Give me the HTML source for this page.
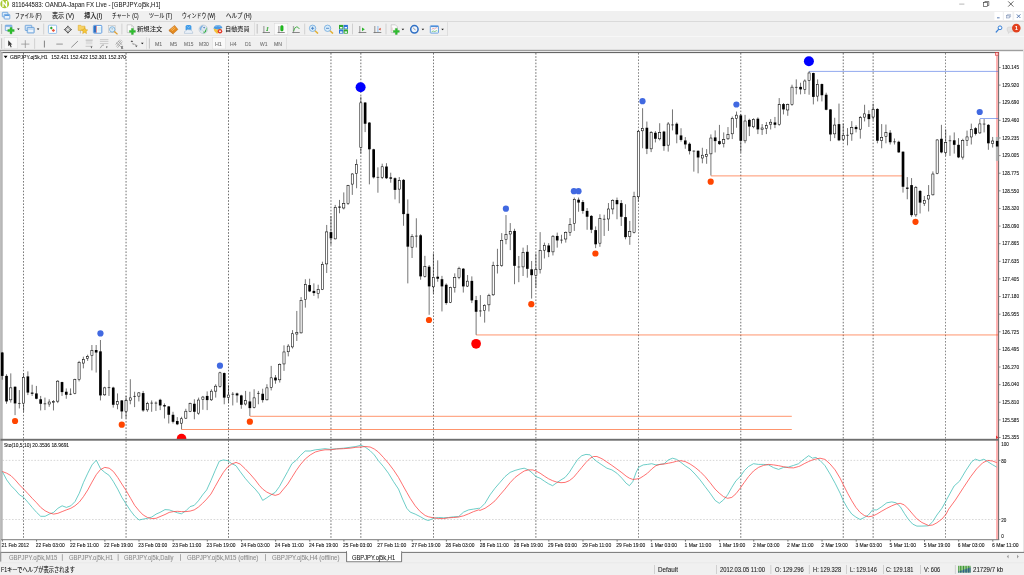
<!DOCTYPE html>
<html lang="ja"><head><meta charset="utf-8"><title>811644583: OANDA-Japan FX Live - [GBPJPY.oj5k,H1]</title>
<style>
html,body{margin:0;padding:0;width:1024px;height:575px;overflow:hidden;background:#f0f0f0;font-family:"Liberation Sans","Noto Sans CJK JP",sans-serif}
.abs{position:absolute}
.t{position:absolute;white-space:pre;line-height:1;transform-origin:0 50%;-webkit-text-stroke:0.08px}
svg text{white-space:pre}
#titlebar{position:absolute;left:0;top:0;width:1024px;height:10.7px;background:#fff}
#menubar{position:absolute;left:0;top:10.7px;width:1024px;height:10.6px;background:#f0f0f0}
#toolbars{position:absolute;left:0;top:21.3px;width:1024px;height:29px;background:#f0f0f0}
#tabs{position:absolute;left:0;top:552.6px;width:1024px;height:10px;background:#f0f0f0}
#status{position:absolute;left:0;top:562.6px;width:1024px;height:12.4px;background:#f0f0f0}
</style></head><body>
<div id="titlebar"></div><div id="menubar"></div><div id="toolbars"></div>
<div id="chart"><svg class="abs" style="left:0;top:0" width="1024" height="575" viewBox="0 0 1024 575" font-family="'Liberation Sans',sans-serif"><rect x="0.00" y="50.00" width="1024.00" height="502.00" fill="#ffffff" />
<rect x="0.00" y="49.30" width="1024.00" height="0.70" fill="#e2e2e2" />
<rect x="0.00" y="49.90" width="1023.20" height="1.30" fill="#9e9e9e" />
<rect x="0.00" y="51.20" width="999.00" height="0.90" fill="#e6e6e6" />
<rect x="0.00" y="52.00" width="998.90" height="1.10" fill="#666" />
<rect x="1023.20" y="50.00" width="0.80" height="502.00" fill="#e0e0e0" />
<rect x="0.00" y="51.00" width="1.20" height="511.00" fill="#bdbdbd" />
<rect x="1.20" y="52.00" width="1.40" height="488.00" fill="#a8a8a8" />
<line x1="23.59" y1="53.00" x2="23.59" y2="539.00" stroke="#000" stroke-width="0.6" stroke-dasharray="1.6 1.6" opacity="0.95"/>
<line x1="126.05" y1="53.00" x2="126.05" y2="539.00" stroke="#000" stroke-width="0.6" stroke-dasharray="1.6 1.6" opacity="0.95"/>
<line x1="228.51" y1="53.00" x2="228.51" y2="539.00" stroke="#000" stroke-width="0.6" stroke-dasharray="1.6 1.6" opacity="0.95"/>
<line x1="330.96" y1="53.00" x2="330.96" y2="539.00" stroke="#000" stroke-width="0.6" stroke-dasharray="1.6 1.6" opacity="0.95"/>
<line x1="360.85" y1="53.00" x2="360.85" y2="539.00" stroke="#000" stroke-width="0.6" stroke-dasharray="1.6 1.6" opacity="0.95"/>
<line x1="433.42" y1="53.00" x2="433.42" y2="539.00" stroke="#000" stroke-width="0.6" stroke-dasharray="1.6 1.6" opacity="0.95"/>
<line x1="535.88" y1="53.00" x2="535.88" y2="539.00" stroke="#000" stroke-width="0.6" stroke-dasharray="1.6 1.6" opacity="0.95"/>
<line x1="638.33" y1="53.00" x2="638.33" y2="539.00" stroke="#000" stroke-width="0.6" stroke-dasharray="1.6 1.6" opacity="0.95"/>
<line x1="740.79" y1="53.00" x2="740.79" y2="539.00" stroke="#000" stroke-width="0.6" stroke-dasharray="1.6 1.6" opacity="0.95"/>
<line x1="843.24" y1="53.00" x2="843.24" y2="539.00" stroke="#000" stroke-width="0.6" stroke-dasharray="1.6 1.6" opacity="0.95"/>
<line x1="873.13" y1="53.00" x2="873.13" y2="539.00" stroke="#000" stroke-width="0.6" stroke-dasharray="1.6 1.6" opacity="0.95"/>
<line x1="945.70" y1="53.00" x2="945.70" y2="539.00" stroke="#000" stroke-width="0.6" stroke-dasharray="1.6 1.6" opacity="0.95"/>
<line x1="2.40" y1="460.40" x2="996.00" y2="460.40" stroke="#b8b8b8" stroke-width="0.55" stroke-dasharray="1.6 1.6"/>
<line x1="2.40" y1="519.50" x2="996.00" y2="519.50" stroke="#b8b8b8" stroke-width="0.55" stroke-dasharray="1.6 1.6"/>
<rect x="996.00" y="53.00" width="2.20" height="487.00" fill="#ffb3b3" />
<line x1="476.11" y1="334.95" x2="998.20" y2="334.95" stroke="#ff4500" stroke-width="0.58" />
<line x1="249.85" y1="416.30" x2="791.80" y2="416.30" stroke="#ff4500" stroke-width="0.58" />
<line x1="181.55" y1="429.50" x2="791.80" y2="429.50" stroke="#ff4500" stroke-width="0.58" />
<line x1="710.90" y1="175.90" x2="903.01" y2="175.90" stroke="#ff4500" stroke-width="0.58" />
<line x1="809.09" y1="71.40" x2="998.20" y2="71.40" stroke="#4169e1" stroke-width="0.58" />
<line x1="979.85" y1="118.50" x2="998.20" y2="118.50" stroke="#4169e1" stroke-width="0.58" />
<line x1="2.25" y1="352.02" x2="2.25" y2="379.73" stroke="#000" stroke-width="0.55" />
<rect x="0.92" y="352.52" width="2.67" height="23.37" fill="#000" />
<line x1="6.52" y1="374.22" x2="6.52" y2="403.77" stroke="#000" stroke-width="0.55" />
<rect x="5.19" y="375.89" width="2.67" height="25.54" fill="#000" />
<line x1="10.79" y1="373.39" x2="10.79" y2="402.60" stroke="#000" stroke-width="0.55" />
<rect x="9.72" y="387.85" width="2.14" height="11.98" fill="#fff" stroke="#000" stroke-width="0.55"/>
<line x1="15.06" y1="386.41" x2="15.06" y2="415.13" stroke="#000" stroke-width="0.55" />
<rect x="13.73" y="386.74" width="2.67" height="16.69" fill="#000" />
<line x1="19.33" y1="390.08" x2="19.33" y2="408.45" stroke="#000" stroke-width="0.55" />
<line x1="17.98" y1="403.44" x2="20.68" y2="403.44" stroke="#000" stroke-width="0.6" />
<line x1="23.59" y1="373.39" x2="23.59" y2="411.79" stroke="#000" stroke-width="0.55" />
<rect x="22.52" y="377.33" width="2.14" height="25.84" fill="#fff" stroke="#000" stroke-width="0.55"/>
<line x1="27.86" y1="371.39" x2="27.86" y2="395.09" stroke="#000" stroke-width="0.55" />
<rect x="26.53" y="376.39" width="2.67" height="16.19" fill="#000" />
<line x1="32.13" y1="384.74" x2="32.13" y2="395.93" stroke="#000" stroke-width="0.55" />
<rect x="30.80" y="392.59" width="2.67" height="1.17" fill="#000" />
<line x1="36.40" y1="385.91" x2="36.40" y2="399.27" stroke="#000" stroke-width="0.55" />
<rect x="35.07" y="393.42" width="2.67" height="5.34" fill="#000" />
<line x1="40.67" y1="395.93" x2="40.67" y2="410.45" stroke="#000" stroke-width="0.55" />
<rect x="39.34" y="399.27" width="2.67" height="4.51" fill="#000" />
<line x1="44.94" y1="397.60" x2="44.94" y2="410.12" stroke="#000" stroke-width="0.55" />
<line x1="43.59" y1="403.77" x2="46.29" y2="403.77" stroke="#000" stroke-width="0.6" />
<line x1="49.21" y1="399.27" x2="49.21" y2="406.78" stroke="#000" stroke-width="0.55" />
<rect x="48.14" y="402.04" width="2.14" height="1.96" fill="#fff" stroke="#000" stroke-width="0.55"/>
<line x1="53.48" y1="400.10" x2="53.48" y2="410.45" stroke="#000" stroke-width="0.55" />
<rect x="52.41" y="401.71" width="2.14" height="0.80" fill="#fff" stroke="#000" stroke-width="0.55"/>
<line x1="57.75" y1="380.07" x2="57.75" y2="403.11" stroke="#000" stroke-width="0.55" />
<rect x="56.68" y="381.17" width="2.14" height="19.99" fill="#fff" stroke="#000" stroke-width="0.55"/>
<line x1="62.02" y1="381.74" x2="62.02" y2="395.93" stroke="#000" stroke-width="0.55" />
<rect x="60.69" y="382.07" width="2.67" height="10.02" fill="#000" />
<line x1="66.28" y1="388.41" x2="66.28" y2="398.76" stroke="#000" stroke-width="0.55" />
<rect x="64.95" y="391.75" width="2.67" height="3.01" fill="#000" />
<line x1="70.55" y1="388.41" x2="70.55" y2="395.09" stroke="#000" stroke-width="0.55" />
<line x1="69.20" y1="394.26" x2="71.90" y2="394.26" stroke="#000" stroke-width="0.6" />
<line x1="74.82" y1="378.73" x2="74.82" y2="394.26" stroke="#000" stroke-width="0.55" />
<rect x="73.75" y="379.50" width="2.14" height="13.98" fill="#fff" stroke="#000" stroke-width="0.55"/>
<line x1="79.09" y1="360.87" x2="79.09" y2="381.40" stroke="#000" stroke-width="0.55" />
<rect x="78.02" y="362.31" width="2.14" height="17.16" fill="#fff" stroke="#000" stroke-width="0.55"/>
<line x1="83.36" y1="356.69" x2="83.36" y2="368.38" stroke="#000" stroke-width="0.55" />
<rect x="82.29" y="359.47" width="2.14" height="3.63" fill="#fff" stroke="#000" stroke-width="0.55"/>
<line x1="87.63" y1="354.69" x2="87.63" y2="360.87" stroke="#000" stroke-width="0.55" />
<rect x="86.56" y="356.63" width="2.14" height="1.80" fill="#fff" stroke="#000" stroke-width="0.55"/>
<line x1="91.90" y1="345.01" x2="91.90" y2="370.38" stroke="#000" stroke-width="0.55" />
<rect x="90.83" y="350.62" width="2.14" height="4.97" fill="#fff" stroke="#000" stroke-width="0.55"/>
<line x1="96.17" y1="345.01" x2="96.17" y2="372.55" stroke="#000" stroke-width="0.55" />
<rect x="94.84" y="350.02" width="2.67" height="2.50" fill="#000" />
<line x1="100.44" y1="340.00" x2="100.44" y2="400.43" stroke="#000" stroke-width="0.55" />
<rect x="99.11" y="351.35" width="2.67" height="44.07" fill="#000" />
<line x1="104.71" y1="386.74" x2="104.71" y2="395.93" stroke="#000" stroke-width="0.55" />
<rect x="103.64" y="387.85" width="2.14" height="6.97" fill="#fff" stroke="#000" stroke-width="0.55"/>
<line x1="108.98" y1="370.05" x2="108.98" y2="395.93" stroke="#000" stroke-width="0.55" />
<line x1="107.63" y1="387.58" x2="110.33" y2="387.58" stroke="#000" stroke-width="0.6" />
<line x1="113.24" y1="386.74" x2="113.24" y2="407.61" stroke="#000" stroke-width="0.55" />
<rect x="111.91" y="387.58" width="2.67" height="17.20" fill="#000" />
<line x1="117.51" y1="393.42" x2="117.51" y2="409.28" stroke="#000" stroke-width="0.55" />
<rect x="116.44" y="401.71" width="2.14" height="2.80" fill="#fff" stroke="#000" stroke-width="0.55"/>
<line x1="121.78" y1="400.10" x2="121.78" y2="418.80" stroke="#000" stroke-width="0.55" />
<rect x="120.45" y="400.43" width="2.67" height="11.02" fill="#000" />
<line x1="126.05" y1="395.93" x2="126.05" y2="418.46" stroke="#000" stroke-width="0.55" />
<rect x="124.98" y="400.70" width="2.14" height="10.81" fill="#fff" stroke="#000" stroke-width="0.55"/>
<line x1="130.32" y1="379.23" x2="130.32" y2="404.27" stroke="#000" stroke-width="0.55" />
<rect x="129.25" y="397.87" width="2.14" height="2.30" fill="#fff" stroke="#000" stroke-width="0.55"/>
<line x1="134.59" y1="391.75" x2="134.59" y2="407.11" stroke="#000" stroke-width="0.55" />
<line x1="133.24" y1="396.43" x2="135.94" y2="396.43" stroke="#000" stroke-width="0.6" />
<line x1="138.86" y1="392.09" x2="138.86" y2="401.44" stroke="#000" stroke-width="0.55" />
<rect x="137.79" y="392.86" width="2.14" height="3.30" fill="#fff" stroke="#000" stroke-width="0.55"/>
<line x1="143.13" y1="390.92" x2="143.13" y2="411.79" stroke="#000" stroke-width="0.55" />
<rect x="141.80" y="393.09" width="2.67" height="17.36" fill="#000" />
<line x1="147.40" y1="401.77" x2="147.40" y2="411.79" stroke="#000" stroke-width="0.55" />
<rect x="146.33" y="403.71" width="2.14" height="6.14" fill="#fff" stroke="#000" stroke-width="0.55"/>
<line x1="151.66" y1="400.43" x2="151.66" y2="411.79" stroke="#000" stroke-width="0.55" />
<line x1="150.31" y1="403.11" x2="153.01" y2="403.11" stroke="#000" stroke-width="0.6" />
<line x1="155.93" y1="401.44" x2="155.93" y2="410.95" stroke="#000" stroke-width="0.55" />
<line x1="154.58" y1="403.11" x2="157.28" y2="403.11" stroke="#000" stroke-width="0.6" />
<line x1="160.20" y1="398.76" x2="160.20" y2="410.12" stroke="#000" stroke-width="0.55" />
<rect x="158.87" y="399.77" width="2.67" height="5.68" fill="#000" />
<line x1="164.47" y1="403.44" x2="164.47" y2="418.46" stroke="#000" stroke-width="0.55" />
<rect x="163.14" y="405.11" width="2.67" height="1.34" fill="#000" />
<line x1="168.74" y1="405.94" x2="168.74" y2="423.47" stroke="#000" stroke-width="0.55" />
<rect x="167.41" y="406.44" width="2.67" height="8.35" fill="#000" />
<line x1="173.01" y1="411.79" x2="173.01" y2="423.47" stroke="#000" stroke-width="0.55" />
<rect x="171.68" y="414.79" width="2.67" height="7.01" fill="#000" />
<line x1="177.28" y1="417.13" x2="177.28" y2="425.14" stroke="#000" stroke-width="0.55" />
<rect x="175.95" y="420.97" width="2.67" height="3.34" fill="#000" />
<line x1="181.55" y1="416.79" x2="181.55" y2="429.32" stroke="#000" stroke-width="0.55" />
<rect x="180.48" y="418.73" width="2.14" height="4.47" fill="#fff" stroke="#000" stroke-width="0.55"/>
<line x1="185.82" y1="408.78" x2="185.82" y2="418.80" stroke="#000" stroke-width="0.55" />
<rect x="184.75" y="411.22" width="2.14" height="6.97" fill="#fff" stroke="#000" stroke-width="0.55"/>
<line x1="190.09" y1="402.60" x2="190.09" y2="412.12" stroke="#000" stroke-width="0.55" />
<rect x="189.02" y="403.38" width="2.14" height="8.14" fill="#fff" stroke="#000" stroke-width="0.55"/>
<line x1="194.36" y1="399.27" x2="194.36" y2="419.30" stroke="#000" stroke-width="0.55" />
<rect x="193.03" y="403.77" width="2.67" height="8.01" fill="#000" />
<line x1="198.62" y1="397.60" x2="198.62" y2="414.79" stroke="#000" stroke-width="0.55" />
<rect x="197.55" y="400.04" width="2.14" height="13.15" fill="#fff" stroke="#000" stroke-width="0.55"/>
<line x1="202.89" y1="395.93" x2="202.89" y2="409.78" stroke="#000" stroke-width="0.55" />
<rect x="201.82" y="397.03" width="2.14" height="2.47" fill="#fff" stroke="#000" stroke-width="0.55"/>
<line x1="207.16" y1="391.42" x2="207.16" y2="410.12" stroke="#000" stroke-width="0.55" />
<rect x="205.83" y="395.93" width="2.67" height="4.17" fill="#000" />
<line x1="211.43" y1="389.25" x2="211.43" y2="400.93" stroke="#000" stroke-width="0.55" />
<rect x="210.36" y="391.19" width="2.14" height="8.64" fill="#fff" stroke="#000" stroke-width="0.55"/>
<line x1="215.70" y1="384.24" x2="215.70" y2="397.60" stroke="#000" stroke-width="0.55" />
<rect x="214.63" y="386.18" width="2.14" height="4.97" fill="#fff" stroke="#000" stroke-width="0.55"/>
<line x1="219.97" y1="371.72" x2="219.97" y2="387.58" stroke="#000" stroke-width="0.55" />
<rect x="218.90" y="372.82" width="2.14" height="13.65" fill="#fff" stroke="#000" stroke-width="0.55"/>
<line x1="224.24" y1="372.55" x2="224.24" y2="404.27" stroke="#000" stroke-width="0.55" />
<rect x="222.91" y="373.06" width="2.67" height="24.54" fill="#000" />
<line x1="228.51" y1="385.08" x2="228.51" y2="402.60" stroke="#000" stroke-width="0.55" />
<rect x="227.44" y="395.03" width="2.14" height="2.30" fill="#fff" stroke="#000" stroke-width="0.55"/>
<line x1="232.78" y1="392.09" x2="232.78" y2="405.44" stroke="#000" stroke-width="0.55" />
<line x1="231.43" y1="394.26" x2="234.13" y2="394.26" stroke="#000" stroke-width="0.6" />
<line x1="237.05" y1="392.59" x2="237.05" y2="402.60" stroke="#000" stroke-width="0.55" />
<rect x="235.72" y="393.42" width="2.67" height="2.00" fill="#000" />
<line x1="241.31" y1="394.76" x2="241.31" y2="408.78" stroke="#000" stroke-width="0.55" />
<rect x="239.98" y="395.43" width="2.67" height="9.35" fill="#000" />
<line x1="245.58" y1="390.92" x2="245.58" y2="405.44" stroke="#000" stroke-width="0.55" />
<rect x="244.51" y="400.70" width="2.14" height="3.30" fill="#fff" stroke="#000" stroke-width="0.55"/>
<line x1="249.85" y1="391.75" x2="249.85" y2="415.96" stroke="#000" stroke-width="0.55" />
<rect x="248.52" y="401.44" width="2.67" height="6.68" fill="#000" />
<line x1="254.12" y1="389.25" x2="254.12" y2="408.45" stroke="#000" stroke-width="0.55" />
<rect x="253.05" y="397.87" width="2.14" height="9.48" fill="#fff" stroke="#000" stroke-width="0.55"/>
<line x1="258.39" y1="390.92" x2="258.39" y2="404.27" stroke="#000" stroke-width="0.55" />
<line x1="257.04" y1="393.42" x2="259.74" y2="393.42" stroke="#000" stroke-width="0.6" />
<line x1="262.66" y1="388.75" x2="262.66" y2="402.60" stroke="#000" stroke-width="0.55" />
<rect x="261.33" y="393.76" width="2.67" height="6.34" fill="#000" />
<line x1="266.93" y1="384.24" x2="266.93" y2="400.43" stroke="#000" stroke-width="0.55" />
<rect x="265.86" y="387.85" width="2.14" height="11.98" fill="#fff" stroke="#000" stroke-width="0.55"/>
<line x1="271.20" y1="365.88" x2="271.20" y2="390.42" stroke="#000" stroke-width="0.55" />
<rect x="270.13" y="377.83" width="2.14" height="9.48" fill="#fff" stroke="#000" stroke-width="0.55"/>
<line x1="275.47" y1="375.06" x2="275.47" y2="383.74" stroke="#000" stroke-width="0.55" />
<rect x="274.14" y="377.56" width="2.67" height="2.84" fill="#000" />
<line x1="279.74" y1="363.37" x2="279.74" y2="382.57" stroke="#000" stroke-width="0.55" />
<rect x="278.67" y="364.48" width="2.14" height="15.32" fill="#fff" stroke="#000" stroke-width="0.55"/>
<line x1="284.00" y1="345.34" x2="284.00" y2="370.88" stroke="#000" stroke-width="0.55" />
<rect x="282.93" y="351.96" width="2.14" height="11.98" fill="#fff" stroke="#000" stroke-width="0.55"/>
<line x1="288.27" y1="344.17" x2="288.27" y2="356.36" stroke="#000" stroke-width="0.55" />
<rect x="287.20" y="346.11" width="2.14" height="5.64" fill="#fff" stroke="#000" stroke-width="0.55"/>
<line x1="292.54" y1="330.13" x2="292.54" y2="348.50" stroke="#000" stroke-width="0.55" />
<rect x="291.47" y="333.74" width="2.14" height="13.15" fill="#fff" stroke="#000" stroke-width="0.55"/>
<line x1="296.81" y1="310.93" x2="296.81" y2="340.98" stroke="#000" stroke-width="0.55" />
<rect x="295.74" y="332.41" width="2.14" height="1.63" fill="#fff" stroke="#000" stroke-width="0.55"/>
<line x1="301.08" y1="297.08" x2="301.08" y2="333.47" stroke="#000" stroke-width="0.55" />
<rect x="300.01" y="300.35" width="2.14" height="32.52" fill="#fff" stroke="#000" stroke-width="0.55"/>
<line x1="305.35" y1="279.22" x2="305.35" y2="307.60" stroke="#000" stroke-width="0.55" />
<rect x="304.28" y="284.49" width="2.14" height="14.99" fill="#fff" stroke="#000" stroke-width="0.55"/>
<line x1="309.62" y1="278.71" x2="309.62" y2="292.07" stroke="#000" stroke-width="0.55" />
<rect x="308.29" y="285.06" width="2.67" height="6.34" fill="#000" />
<line x1="313.89" y1="283.39" x2="313.89" y2="295.91" stroke="#000" stroke-width="0.55" />
<rect x="312.56" y="290.90" width="2.67" height="2.17" fill="#000" />
<line x1="318.16" y1="284.72" x2="318.16" y2="298.41" stroke="#000" stroke-width="0.55" />
<rect x="317.09" y="289.50" width="2.14" height="3.97" fill="#fff" stroke="#000" stroke-width="0.55"/>
<line x1="322.43" y1="261.69" x2="322.43" y2="290.07" stroke="#000" stroke-width="0.55" />
<rect x="321.36" y="264.46" width="2.14" height="25.00" fill="#fff" stroke="#000" stroke-width="0.55"/>
<line x1="326.69" y1="224.95" x2="326.69" y2="273.03" stroke="#000" stroke-width="0.55" />
<rect x="325.62" y="231.90" width="2.14" height="32.01" fill="#fff" stroke="#000" stroke-width="0.55"/>
<line x1="330.96" y1="216.10" x2="330.96" y2="244.98" stroke="#000" stroke-width="0.55" />
<rect x="329.63" y="232.13" width="2.67" height="6.18" fill="#000" />
<line x1="335.23" y1="204.92" x2="335.23" y2="239.48" stroke="#000" stroke-width="0.55" />
<rect x="334.16" y="207.36" width="2.14" height="31.51" fill="#fff" stroke="#000" stroke-width="0.55"/>
<line x1="339.50" y1="199.91" x2="339.50" y2="213.27" stroke="#000" stroke-width="0.55" />
<rect x="338.17" y="206.59" width="2.67" height="1.00" fill="#000" />
<line x1="343.77" y1="192.40" x2="343.77" y2="209.43" stroke="#000" stroke-width="0.55" />
<rect x="342.70" y="203.52" width="2.14" height="4.47" fill="#fff" stroke="#000" stroke-width="0.55"/>
<line x1="348.04" y1="184.88" x2="348.04" y2="204.92" stroke="#000" stroke-width="0.55" />
<rect x="346.97" y="185.66" width="2.14" height="17.82" fill="#fff" stroke="#000" stroke-width="0.55"/>
<line x1="352.31" y1="173.20" x2="352.31" y2="194.90" stroke="#000" stroke-width="0.55" />
<rect x="351.24" y="173.97" width="2.14" height="10.14" fill="#fff" stroke="#000" stroke-width="0.55"/>
<line x1="356.58" y1="159.34" x2="356.58" y2="188.22" stroke="#000" stroke-width="0.55" />
<rect x="355.51" y="164.29" width="2.14" height="9.14" fill="#fff" stroke="#000" stroke-width="0.55"/>
<line x1="360.85" y1="96.71" x2="360.85" y2="153.47" stroke="#000" stroke-width="0.55" />
<rect x="359.78" y="102.82" width="2.14" height="44.54" fill="#fff" stroke="#000" stroke-width="0.55"/>
<line x1="365.12" y1="102.05" x2="365.12" y2="132.10" stroke="#000" stroke-width="0.55" />
<rect x="363.79" y="102.55" width="2.67" height="21.20" fill="#000" />
<line x1="369.38" y1="122.09" x2="369.38" y2="184.36" stroke="#000" stroke-width="0.55" />
<rect x="368.05" y="122.59" width="2.67" height="26.71" fill="#000" />
<line x1="373.65" y1="148.80" x2="373.65" y2="178.51" stroke="#000" stroke-width="0.55" />
<rect x="372.32" y="149.30" width="2.67" height="28.05" fill="#000" />
<line x1="377.92" y1="167.36" x2="377.92" y2="192.73" stroke="#000" stroke-width="0.55" />
<line x1="376.57" y1="177.37" x2="379.27" y2="177.37" stroke="#000" stroke-width="0.6" />
<line x1="382.19" y1="163.68" x2="382.19" y2="179.04" stroke="#000" stroke-width="0.55" />
<rect x="381.12" y="166.79" width="2.14" height="10.65" fill="#fff" stroke="#000" stroke-width="0.55"/>
<line x1="386.46" y1="163.18" x2="386.46" y2="179.04" stroke="#000" stroke-width="0.55" />
<rect x="385.13" y="166.52" width="2.67" height="11.69" fill="#000" />
<line x1="390.73" y1="172.70" x2="390.73" y2="182.71" stroke="#000" stroke-width="0.55" />
<rect x="389.40" y="177.37" width="2.67" height="1.34" fill="#000" />
<line x1="395.00" y1="177.37" x2="395.00" y2="199.41" stroke="#000" stroke-width="0.55" />
<rect x="393.67" y="178.21" width="2.67" height="11.69" fill="#000" />
<line x1="399.27" y1="177.04" x2="399.27" y2="203.25" stroke="#000" stroke-width="0.55" />
<rect x="398.20" y="180.65" width="2.14" height="8.48" fill="#fff" stroke="#000" stroke-width="0.55"/>
<line x1="403.54" y1="179.04" x2="403.54" y2="225.79" stroke="#000" stroke-width="0.55" />
<rect x="402.21" y="179.88" width="2.67" height="34.22" fill="#000" />
<line x1="407.81" y1="199.41" x2="407.81" y2="283.38" stroke="#000" stroke-width="0.55" />
<rect x="406.48" y="213.77" width="2.67" height="32.89" fill="#000" />
<line x1="412.07" y1="234.13" x2="412.07" y2="258.01" stroke="#000" stroke-width="0.55" />
<rect x="411.00" y="236.41" width="2.14" height="10.81" fill="#fff" stroke="#000" stroke-width="0.55"/>
<line x1="416.34" y1="218.27" x2="416.34" y2="247.49" stroke="#000" stroke-width="0.55" />
<line x1="414.99" y1="236.14" x2="417.69" y2="236.14" stroke="#000" stroke-width="0.6" />
<line x1="420.61" y1="234.14" x2="420.61" y2="279.72" stroke="#000" stroke-width="0.55" />
<rect x="419.28" y="235.31" width="2.67" height="41.07" fill="#000" />
<line x1="424.88" y1="255.84" x2="424.88" y2="277.55" stroke="#000" stroke-width="0.55" />
<rect x="423.81" y="266.63" width="2.14" height="9.81" fill="#fff" stroke="#000" stroke-width="0.55"/>
<line x1="429.15" y1="265.03" x2="429.15" y2="314.77" stroke="#000" stroke-width="0.55" />
<rect x="427.82" y="266.69" width="2.67" height="19.70" fill="#000" />
<line x1="433.42" y1="253.34" x2="433.42" y2="293.74" stroke="#000" stroke-width="0.55" />
<rect x="432.35" y="277.32" width="2.14" height="9.48" fill="#fff" stroke="#000" stroke-width="0.55"/>
<line x1="437.69" y1="260.35" x2="437.69" y2="281.72" stroke="#000" stroke-width="0.55" />
<rect x="436.36" y="276.71" width="2.67" height="2.00" fill="#000" />
<line x1="441.96" y1="275.88" x2="441.96" y2="311.44" stroke="#000" stroke-width="0.55" />
<rect x="440.63" y="279.22" width="2.67" height="7.18" fill="#000" />
<line x1="446.23" y1="283.39" x2="446.23" y2="304.76" stroke="#000" stroke-width="0.55" />
<rect x="444.90" y="284.72" width="2.67" height="18.36" fill="#000" />
<line x1="450.50" y1="286.73" x2="450.50" y2="303.09" stroke="#000" stroke-width="0.55" />
<rect x="449.43" y="287.33" width="2.14" height="14.99" fill="#fff" stroke="#000" stroke-width="0.55"/>
<line x1="454.76" y1="273.37" x2="454.76" y2="292.57" stroke="#000" stroke-width="0.55" />
<rect x="453.69" y="277.32" width="2.14" height="9.98" fill="#fff" stroke="#000" stroke-width="0.55"/>
<line x1="459.03" y1="266.69" x2="459.03" y2="279.22" stroke="#000" stroke-width="0.55" />
<rect x="457.96" y="268.30" width="2.14" height="8.98" fill="#fff" stroke="#000" stroke-width="0.55"/>
<line x1="463.30" y1="268.03" x2="463.30" y2="292.57" stroke="#000" stroke-width="0.55" />
<rect x="461.97" y="268.70" width="2.67" height="17.70" fill="#000" />
<line x1="467.57" y1="275.04" x2="467.57" y2="287.06" stroke="#000" stroke-width="0.55" />
<rect x="466.50" y="281.15" width="2.14" height="4.97" fill="#fff" stroke="#000" stroke-width="0.55"/>
<line x1="471.84" y1="276.38" x2="471.84" y2="303.09" stroke="#000" stroke-width="0.55" />
<rect x="470.51" y="280.88" width="2.67" height="19.53" fill="#000" />
<line x1="476.11" y1="295.91" x2="476.11" y2="334.81" stroke="#000" stroke-width="0.55" />
<rect x="474.78" y="300.08" width="2.67" height="11.69" fill="#000" />
<line x1="480.38" y1="295.08" x2="480.38" y2="316.78" stroke="#000" stroke-width="0.55" />
<line x1="479.03" y1="310.93" x2="481.73" y2="310.93" stroke="#000" stroke-width="0.6" />
<line x1="484.65" y1="304.26" x2="484.65" y2="322.62" stroke="#000" stroke-width="0.55" />
<rect x="483.58" y="305.36" width="2.14" height="5.30" fill="#fff" stroke="#000" stroke-width="0.55"/>
<line x1="488.92" y1="293.74" x2="488.92" y2="311.44" stroke="#000" stroke-width="0.55" />
<rect x="487.85" y="295.35" width="2.14" height="9.48" fill="#fff" stroke="#000" stroke-width="0.55"/>
<line x1="493.19" y1="261.69" x2="493.19" y2="295.91" stroke="#000" stroke-width="0.55" />
<rect x="492.12" y="265.63" width="2.14" height="29.18" fill="#fff" stroke="#000" stroke-width="0.55"/>
<line x1="497.45" y1="248.80" x2="497.45" y2="273.51" stroke="#000" stroke-width="0.55" />
<line x1="496.10" y1="265.49" x2="498.80" y2="265.49" stroke="#000" stroke-width="0.6" />
<line x1="501.72" y1="233.11" x2="501.72" y2="266.83" stroke="#000" stroke-width="0.55" />
<rect x="500.65" y="240.39" width="2.14" height="25.17" fill="#fff" stroke="#000" stroke-width="0.55"/>
<line x1="505.99" y1="215.08" x2="505.99" y2="244.29" stroke="#000" stroke-width="0.55" />
<rect x="504.92" y="234.54" width="2.14" height="4.97" fill="#fff" stroke="#000" stroke-width="0.55"/>
<line x1="510.26" y1="223.09" x2="510.26" y2="250.13" stroke="#000" stroke-width="0.55" />
<rect x="509.19" y="231.71" width="2.14" height="2.30" fill="#fff" stroke="#000" stroke-width="0.55"/>
<line x1="514.53" y1="228.76" x2="514.53" y2="284.19" stroke="#000" stroke-width="0.55" />
<rect x="513.20" y="230.93" width="2.67" height="34.89" fill="#000" />
<line x1="518.80" y1="255.98" x2="518.80" y2="282.19" stroke="#000" stroke-width="0.55" />
<line x1="517.45" y1="266.99" x2="520.15" y2="266.99" stroke="#000" stroke-width="0.6" />
<line x1="523.07" y1="247.63" x2="523.07" y2="276.01" stroke="#000" stroke-width="0.55" />
<rect x="522.00" y="252.41" width="2.14" height="14.49" fill="#fff" stroke="#000" stroke-width="0.55"/>
<line x1="527.34" y1="245.13" x2="527.34" y2="277.68" stroke="#000" stroke-width="0.55" />
<rect x="526.01" y="251.80" width="2.67" height="17.03" fill="#000" />
<line x1="531.61" y1="260.98" x2="531.61" y2="298.55" stroke="#000" stroke-width="0.55" />
<rect x="530.28" y="269.33" width="2.67" height="5.84" fill="#000" />
<line x1="535.88" y1="253.47" x2="535.88" y2="287.70" stroke="#000" stroke-width="0.55" />
<rect x="534.80" y="269.60" width="2.14" height="5.64" fill="#fff" stroke="#000" stroke-width="0.55"/>
<line x1="540.14" y1="232.10" x2="540.14" y2="273.51" stroke="#000" stroke-width="0.55" />
<rect x="539.07" y="250.40" width="2.14" height="19.16" fill="#fff" stroke="#000" stroke-width="0.55"/>
<line x1="544.41" y1="242.62" x2="544.41" y2="258.48" stroke="#000" stroke-width="0.55" />
<rect x="543.34" y="245.40" width="2.14" height="4.80" fill="#fff" stroke="#000" stroke-width="0.55"/>
<line x1="548.68" y1="243.12" x2="548.68" y2="257.15" stroke="#000" stroke-width="0.55" />
<rect x="547.35" y="245.46" width="2.67" height="6.68" fill="#000" />
<line x1="552.95" y1="235.11" x2="552.95" y2="255.48" stroke="#000" stroke-width="0.55" />
<rect x="551.88" y="236.21" width="2.14" height="15.65" fill="#fff" stroke="#000" stroke-width="0.55"/>
<line x1="557.22" y1="232.60" x2="557.22" y2="247.63" stroke="#000" stroke-width="0.55" />
<rect x="555.89" y="235.94" width="2.67" height="4.51" fill="#000" />
<line x1="561.49" y1="234.77" x2="561.49" y2="243.46" stroke="#000" stroke-width="0.55" />
<line x1="560.14" y1="240.12" x2="562.84" y2="240.12" stroke="#000" stroke-width="0.6" />
<line x1="565.76" y1="231.44" x2="565.76" y2="242.62" stroke="#000" stroke-width="0.55" />
<rect x="564.69" y="232.37" width="2.14" height="6.64" fill="#fff" stroke="#000" stroke-width="0.55"/>
<line x1="570.03" y1="218.08" x2="570.03" y2="235.94" stroke="#000" stroke-width="0.55" />
<rect x="568.96" y="224.53" width="2.14" height="7.81" fill="#fff" stroke="#000" stroke-width="0.55"/>
<line x1="574.30" y1="197.55" x2="574.30" y2="230.93" stroke="#000" stroke-width="0.55" />
<rect x="573.23" y="199.49" width="2.14" height="24.00" fill="#fff" stroke="#000" stroke-width="0.55"/>
<line x1="578.57" y1="197.55" x2="578.57" y2="211.74" stroke="#000" stroke-width="0.55" />
<rect x="577.24" y="199.72" width="2.67" height="2.84" fill="#000" />
<line x1="582.83" y1="200.05" x2="582.83" y2="213.74" stroke="#000" stroke-width="0.55" />
<rect x="581.50" y="202.05" width="2.67" height="8.85" fill="#000" />
<line x1="587.10" y1="208.06" x2="587.10" y2="229.77" stroke="#000" stroke-width="0.55" />
<rect x="585.77" y="210.90" width="2.67" height="5.84" fill="#000" />
<line x1="591.37" y1="215.08" x2="591.37" y2="233.11" stroke="#000" stroke-width="0.55" />
<rect x="590.04" y="215.91" width="2.67" height="13.86" fill="#000" />
<line x1="595.64" y1="226.43" x2="595.64" y2="248.13" stroke="#000" stroke-width="0.55" />
<rect x="594.31" y="230.10" width="2.67" height="14.19" fill="#000" />
<line x1="599.91" y1="214.24" x2="599.91" y2="246.79" stroke="#000" stroke-width="0.55" />
<rect x="598.84" y="218.68" width="2.14" height="24.50" fill="#fff" stroke="#000" stroke-width="0.55"/>
<line x1="604.18" y1="214.74" x2="604.18" y2="235.94" stroke="#000" stroke-width="0.55" />
<line x1="602.83" y1="219.25" x2="605.53" y2="219.25" stroke="#000" stroke-width="0.6" />
<line x1="608.45" y1="203.06" x2="608.45" y2="230.93" stroke="#000" stroke-width="0.55" />
<rect x="607.38" y="209.00" width="2.14" height="9.98" fill="#fff" stroke="#000" stroke-width="0.55"/>
<line x1="612.72" y1="199.22" x2="612.72" y2="214.24" stroke="#000" stroke-width="0.55" />
<rect x="611.65" y="200.32" width="2.14" height="8.64" fill="#fff" stroke="#000" stroke-width="0.55"/>
<line x1="616.99" y1="197.55" x2="616.99" y2="219.25" stroke="#000" stroke-width="0.55" />
<rect x="615.66" y="200.05" width="2.67" height="4.17" fill="#000" />
<line x1="621.25" y1="200.07" x2="621.25" y2="225.94" stroke="#000" stroke-width="0.55" />
<rect x="619.92" y="203.07" width="2.67" height="13.69" fill="#000" />
<line x1="625.52" y1="204.24" x2="625.52" y2="239.30" stroke="#000" stroke-width="0.55" />
<rect x="624.19" y="217.10" width="2.67" height="20.03" fill="#000" />
<line x1="629.79" y1="220.93" x2="629.79" y2="244.81" stroke="#000" stroke-width="0.55" />
<rect x="628.72" y="231.72" width="2.14" height="4.80" fill="#fff" stroke="#000" stroke-width="0.55"/>
<line x1="634.06" y1="191.72" x2="634.06" y2="233.46" stroke="#000" stroke-width="0.55" />
<rect x="632.99" y="196.66" width="2.14" height="35.69" fill="#fff" stroke="#000" stroke-width="0.55"/>
<line x1="638.33" y1="129.91" x2="638.33" y2="201.70" stroke="#000" stroke-width="0.55" />
<rect x="637.26" y="131.35" width="2.14" height="65.40" fill="#fff" stroke="#000" stroke-width="0.55"/>
<line x1="642.60" y1="108.21" x2="642.60" y2="148.27" stroke="#000" stroke-width="0.55" />
<rect x="641.53" y="128.51" width="2.14" height="2.30" fill="#fff" stroke="#000" stroke-width="0.55"/>
<line x1="646.87" y1="121.56" x2="646.87" y2="154.12" stroke="#000" stroke-width="0.55" />
<rect x="645.54" y="127.74" width="2.67" height="21.04" fill="#000" />
<line x1="651.14" y1="131.08" x2="651.14" y2="152.11" stroke="#000" stroke-width="0.55" />
<rect x="650.07" y="132.68" width="2.14" height="16.15" fill="#fff" stroke="#000" stroke-width="0.55"/>
<line x1="655.41" y1="131.08" x2="655.41" y2="142.43" stroke="#000" stroke-width="0.55" />
<rect x="654.08" y="132.75" width="2.67" height="6.01" fill="#000" />
<line x1="659.68" y1="123.23" x2="659.68" y2="140.43" stroke="#000" stroke-width="0.55" />
<rect x="658.61" y="132.68" width="2.14" height="6.14" fill="#fff" stroke="#000" stroke-width="0.55"/>
<line x1="663.95" y1="130.74" x2="663.95" y2="150.78" stroke="#000" stroke-width="0.55" />
<rect x="662.62" y="131.58" width="2.67" height="14.52" fill="#000" />
<line x1="668.21" y1="122.06" x2="668.21" y2="151.61" stroke="#000" stroke-width="0.55" />
<rect x="667.14" y="124.00" width="2.14" height="21.16" fill="#fff" stroke="#000" stroke-width="0.55"/>
<line x1="672.48" y1="109.38" x2="672.48" y2="130.41" stroke="#000" stroke-width="0.55" />
<line x1="671.13" y1="124.90" x2="673.83" y2="124.90" stroke="#000" stroke-width="0.6" />
<line x1="676.75" y1="122.40" x2="676.75" y2="143.27" stroke="#000" stroke-width="0.55" />
<rect x="675.42" y="123.73" width="2.67" height="10.68" fill="#000" />
<line x1="681.02" y1="128.24" x2="681.02" y2="141.60" stroke="#000" stroke-width="0.55" />
<rect x="679.69" y="135.42" width="2.67" height="4.51" fill="#000" />
<line x1="685.29" y1="137.09" x2="685.29" y2="148.77" stroke="#000" stroke-width="0.55" />
<rect x="683.96" y="140.43" width="2.67" height="4.01" fill="#000" />
<line x1="689.56" y1="142.43" x2="689.56" y2="154.45" stroke="#000" stroke-width="0.55" />
<rect x="688.23" y="143.77" width="2.67" height="7.35" fill="#000" />
<line x1="693.83" y1="150.44" x2="693.83" y2="171.65" stroke="#000" stroke-width="0.55" />
<line x1="692.48" y1="151.11" x2="695.18" y2="151.11" stroke="#000" stroke-width="0.6" />
<line x1="698.10" y1="150.44" x2="698.10" y2="173.32" stroke="#000" stroke-width="0.55" />
<rect x="696.77" y="150.78" width="2.67" height="6.68" fill="#000" />
<line x1="702.37" y1="147.77" x2="702.37" y2="163.30" stroke="#000" stroke-width="0.55" />
<rect x="701.30" y="155.22" width="2.14" height="2.80" fill="#fff" stroke="#000" stroke-width="0.55"/>
<line x1="706.63" y1="149.11" x2="706.63" y2="163.80" stroke="#000" stroke-width="0.55" />
<rect x="705.56" y="154.39" width="2.14" height="1.96" fill="#fff" stroke="#000" stroke-width="0.55"/>
<line x1="710.90" y1="134.42" x2="710.90" y2="175.49" stroke="#000" stroke-width="0.55" />
<rect x="709.83" y="138.03" width="2.14" height="15.82" fill="#fff" stroke="#000" stroke-width="0.55"/>
<line x1="715.17" y1="130.41" x2="715.17" y2="152.45" stroke="#000" stroke-width="0.55" />
<rect x="713.84" y="137.42" width="2.67" height="3.67" fill="#000" />
<line x1="719.44" y1="124.90" x2="719.44" y2="144.93" stroke="#000" stroke-width="0.55" />
<rect x="718.11" y="141.10" width="2.67" height="3.01" fill="#000" />
<line x1="723.71" y1="132.41" x2="723.71" y2="147.44" stroke="#000" stroke-width="0.55" />
<rect x="722.64" y="139.70" width="2.14" height="3.80" fill="#fff" stroke="#000" stroke-width="0.55"/>
<line x1="727.98" y1="127.07" x2="727.98" y2="139.93" stroke="#000" stroke-width="0.55" />
<rect x="726.91" y="134.69" width="2.14" height="4.13" fill="#fff" stroke="#000" stroke-width="0.55"/>
<line x1="732.25" y1="116.55" x2="732.25" y2="139.09" stroke="#000" stroke-width="0.55" />
<rect x="731.18" y="118.49" width="2.14" height="15.32" fill="#fff" stroke="#000" stroke-width="0.55"/>
<line x1="736.52" y1="111.55" x2="736.52" y2="127.74" stroke="#000" stroke-width="0.55" />
<rect x="735.45" y="115.15" width="2.14" height="3.30" fill="#fff" stroke="#000" stroke-width="0.55"/>
<line x1="740.79" y1="114.05" x2="740.79" y2="152.45" stroke="#000" stroke-width="0.55" />
<rect x="739.46" y="115.39" width="2.67" height="25.38" fill="#000" />
<line x1="745.06" y1="114.88" x2="745.06" y2="143.27" stroke="#000" stroke-width="0.55" />
<rect x="743.99" y="121.00" width="2.14" height="19.83" fill="#fff" stroke="#000" stroke-width="0.55"/>
<line x1="749.33" y1="118.72" x2="749.33" y2="136.09" stroke="#000" stroke-width="0.55" />
<rect x="748.00" y="119.89" width="2.67" height="6.68" fill="#000" />
<line x1="753.59" y1="118.22" x2="753.59" y2="128.24" stroke="#000" stroke-width="0.55" />
<rect x="752.52" y="119.33" width="2.14" height="7.47" fill="#fff" stroke="#000" stroke-width="0.55"/>
<line x1="757.86" y1="117.39" x2="757.86" y2="134.08" stroke="#000" stroke-width="0.55" />
<rect x="756.53" y="118.72" width="2.67" height="10.68" fill="#000" />
<line x1="762.13" y1="124.07" x2="762.13" y2="134.92" stroke="#000" stroke-width="0.55" />
<rect x="761.06" y="128.01" width="2.14" height="1.63" fill="#fff" stroke="#000" stroke-width="0.55"/>
<line x1="766.40" y1="122.06" x2="766.40" y2="134.08" stroke="#000" stroke-width="0.55" />
<rect x="765.33" y="125.67" width="2.14" height="2.80" fill="#fff" stroke="#000" stroke-width="0.55"/>
<line x1="770.67" y1="119.11" x2="770.67" y2="129.46" stroke="#000" stroke-width="0.55" />
<rect x="769.60" y="122.21" width="2.14" height="1.96" fill="#fff" stroke="#000" stroke-width="0.55"/>
<line x1="774.94" y1="116.93" x2="774.94" y2="128.12" stroke="#000" stroke-width="0.55" />
<rect x="773.61" y="122.44" width="2.67" height="2.34" fill="#000" />
<line x1="779.21" y1="98.07" x2="779.21" y2="125.78" stroke="#000" stroke-width="0.55" />
<rect x="778.14" y="104.68" width="2.14" height="19.83" fill="#fff" stroke="#000" stroke-width="0.55"/>
<line x1="783.48" y1="103.08" x2="783.48" y2="114.43" stroke="#000" stroke-width="0.55" />
<rect x="782.15" y="104.08" width="2.67" height="5.34" fill="#000" />
<line x1="787.75" y1="103.58" x2="787.75" y2="115.77" stroke="#000" stroke-width="0.55" />
<rect x="786.68" y="104.68" width="2.14" height="5.30" fill="#fff" stroke="#000" stroke-width="0.55"/>
<line x1="792.01" y1="84.71" x2="792.01" y2="105.75" stroke="#000" stroke-width="0.55" />
<rect x="790.94" y="87.15" width="2.14" height="17.32" fill="#fff" stroke="#000" stroke-width="0.55"/>
<line x1="796.28" y1="79.37" x2="796.28" y2="94.40" stroke="#000" stroke-width="0.55" />
<line x1="794.93" y1="87.39" x2="797.63" y2="87.39" stroke="#000" stroke-width="0.6" />
<line x1="800.55" y1="82.71" x2="800.55" y2="94.40" stroke="#000" stroke-width="0.55" />
<rect x="799.22" y="86.88" width="2.67" height="2.50" fill="#000" />
<line x1="804.82" y1="79.37" x2="804.82" y2="94.06" stroke="#000" stroke-width="0.55" />
<rect x="803.75" y="80.98" width="2.14" height="8.48" fill="#fff" stroke="#000" stroke-width="0.55"/>
<line x1="809.09" y1="71.36" x2="809.09" y2="94.73" stroke="#000" stroke-width="0.55" />
<rect x="808.02" y="72.96" width="2.14" height="7.47" fill="#fff" stroke="#000" stroke-width="0.55"/>
<line x1="813.36" y1="72.69" x2="813.36" y2="104.41" stroke="#000" stroke-width="0.55" />
<rect x="812.03" y="73.03" width="2.67" height="23.87" fill="#000" />
<line x1="817.63" y1="79.37" x2="817.63" y2="101.41" stroke="#000" stroke-width="0.55" />
<rect x="816.56" y="84.32" width="2.14" height="11.81" fill="#fff" stroke="#000" stroke-width="0.55"/>
<line x1="821.90" y1="83.55" x2="821.90" y2="101.41" stroke="#000" stroke-width="0.55" />
<rect x="820.57" y="84.05" width="2.67" height="11.19" fill="#000" />
<line x1="826.17" y1="92.73" x2="826.17" y2="110.26" stroke="#000" stroke-width="0.55" />
<rect x="824.84" y="94.73" width="2.67" height="15.03" fill="#000" />
<line x1="830.44" y1="109.09" x2="830.44" y2="141.14" stroke="#000" stroke-width="0.55" />
<rect x="829.11" y="109.42" width="2.67" height="25.04" fill="#000" />
<line x1="834.71" y1="117.77" x2="834.71" y2="138.14" stroke="#000" stroke-width="0.55" />
<rect x="833.63" y="125.05" width="2.14" height="8.81" fill="#fff" stroke="#000" stroke-width="0.55"/>
<line x1="838.97" y1="103.58" x2="838.97" y2="141.14" stroke="#000" stroke-width="0.55" />
<rect x="837.64" y="124.11" width="2.67" height="16.19" fill="#000" />
<line x1="843.24" y1="123.61" x2="843.24" y2="141.14" stroke="#000" stroke-width="0.55" />
<rect x="842.17" y="135.57" width="2.14" height="3.63" fill="#fff" stroke="#000" stroke-width="0.55"/>
<line x1="847.51" y1="128.12" x2="847.51" y2="145.32" stroke="#000" stroke-width="0.55" />
<line x1="846.16" y1="135.30" x2="848.86" y2="135.30" stroke="#000" stroke-width="0.6" />
<line x1="851.78" y1="121.11" x2="851.78" y2="140.81" stroke="#000" stroke-width="0.55" />
<rect x="850.71" y="127.72" width="2.14" height="6.14" fill="#fff" stroke="#000" stroke-width="0.55"/>
<line x1="856.05" y1="125.28" x2="856.05" y2="132.46" stroke="#000" stroke-width="0.55" />
<rect x="854.72" y="126.95" width="2.67" height="2.17" fill="#000" />
<line x1="860.32" y1="116.10" x2="860.32" y2="138.64" stroke="#000" stroke-width="0.55" />
<rect x="859.25" y="117.71" width="2.14" height="11.48" fill="#fff" stroke="#000" stroke-width="0.55"/>
<line x1="864.59" y1="104.75" x2="864.59" y2="121.44" stroke="#000" stroke-width="0.55" />
<rect x="863.52" y="113.87" width="2.14" height="3.30" fill="#fff" stroke="#000" stroke-width="0.55"/>
<line x1="868.86" y1="110.26" x2="868.86" y2="126.95" stroke="#000" stroke-width="0.55" />
<rect x="867.53" y="114.10" width="2.67" height="5.01" fill="#000" />
<line x1="873.13" y1="103.67" x2="873.13" y2="120.31" stroke="#000" stroke-width="0.55" />
<rect x="872.06" y="109.69" width="2.14" height="7.33" fill="#fff" stroke="#000" stroke-width="0.55"/>
<line x1="877.39" y1="108.21" x2="877.39" y2="143.30" stroke="#000" stroke-width="0.55" />
<rect x="876.06" y="108.96" width="2.67" height="31.77" fill="#000" />
<line x1="881.66" y1="124.09" x2="881.66" y2="148.30" stroke="#000" stroke-width="0.55" />
<rect x="880.59" y="137.52" width="2.14" height="2.94" fill="#fff" stroke="#000" stroke-width="0.55"/>
<line x1="885.93" y1="124.54" x2="885.93" y2="143.30" stroke="#000" stroke-width="0.55" />
<rect x="884.86" y="132.68" width="2.14" height="3.70" fill="#fff" stroke="#000" stroke-width="0.55"/>
<line x1="890.20" y1="130.14" x2="890.20" y2="144.51" stroke="#000" stroke-width="0.55" />
<rect x="888.87" y="132.71" width="2.67" height="9.53" fill="#000" />
<line x1="894.47" y1="138.46" x2="894.47" y2="144.51" stroke="#000" stroke-width="0.55" />
<line x1="893.12" y1="141.79" x2="895.82" y2="141.79" stroke="#000" stroke-width="0.6" />
<line x1="898.74" y1="140.73" x2="898.74" y2="152.84" stroke="#000" stroke-width="0.55" />
<rect x="897.41" y="141.79" width="2.67" height="10.59" fill="#000" />
<line x1="903.01" y1="151.37" x2="903.01" y2="192.60" stroke="#000" stroke-width="0.55" />
<rect x="901.68" y="151.70" width="2.67" height="35.06" fill="#000" />
<line x1="907.28" y1="177.08" x2="907.28" y2="199.28" stroke="#000" stroke-width="0.55" />
<rect x="905.95" y="187.60" width="2.67" height="1.17" fill="#000" />
<line x1="911.55" y1="178.08" x2="911.55" y2="216.81" stroke="#000" stroke-width="0.55" />
<rect x="910.22" y="185.09" width="2.67" height="30.05" fill="#000" />
<line x1="915.82" y1="185.93" x2="915.82" y2="216.81" stroke="#000" stroke-width="0.55" />
<rect x="914.75" y="187.37" width="2.14" height="27.51" fill="#fff" stroke="#000" stroke-width="0.55"/>
<line x1="920.09" y1="190.10" x2="920.09" y2="213.47" stroke="#000" stroke-width="0.55" />
<rect x="918.75" y="190.93" width="2.67" height="11.69" fill="#000" />
<line x1="924.35" y1="195.94" x2="924.35" y2="205.96" stroke="#000" stroke-width="0.55" />
<rect x="923.28" y="200.39" width="2.14" height="3.13" fill="#fff" stroke="#000" stroke-width="0.55"/>
<line x1="928.62" y1="185.09" x2="928.62" y2="211.47" stroke="#000" stroke-width="0.55" />
<rect x="927.55" y="195.38" width="2.14" height="3.63" fill="#fff" stroke="#000" stroke-width="0.55"/>
<line x1="932.89" y1="171.40" x2="932.89" y2="195.44" stroke="#000" stroke-width="0.55" />
<rect x="931.82" y="174.01" width="2.14" height="20.83" fill="#fff" stroke="#000" stroke-width="0.55"/>
<line x1="937.16" y1="139.18" x2="937.16" y2="174.24" stroke="#000" stroke-width="0.55" />
<rect x="936.09" y="139.95" width="2.14" height="33.52" fill="#fff" stroke="#000" stroke-width="0.55"/>
<line x1="941.43" y1="124.85" x2="941.43" y2="153.29" stroke="#000" stroke-width="0.55" />
<rect x="940.10" y="138.77" width="2.67" height="13.62" fill="#000" />
<line x1="945.70" y1="129.39" x2="945.70" y2="155.86" stroke="#000" stroke-width="0.55" />
<rect x="944.63" y="142.52" width="2.14" height="10.05" fill="#fff" stroke="#000" stroke-width="0.55"/>
<line x1="949.97" y1="135.44" x2="949.97" y2="155.86" stroke="#000" stroke-width="0.55" />
<line x1="948.62" y1="140.73" x2="951.32" y2="140.73" stroke="#000" stroke-width="0.6" />
<line x1="954.24" y1="132.41" x2="954.24" y2="153.59" stroke="#000" stroke-width="0.55" />
<rect x="952.91" y="140.28" width="2.67" height="4.54" fill="#000" />
<line x1="958.51" y1="138.16" x2="958.51" y2="158.13" stroke="#000" stroke-width="0.55" />
<rect x="957.18" y="144.82" width="2.67" height="12.56" fill="#000" />
<line x1="962.77" y1="138.77" x2="962.77" y2="159.64" stroke="#000" stroke-width="0.55" />
<rect x="961.70" y="140.55" width="2.14" height="16.56" fill="#fff" stroke="#000" stroke-width="0.55"/>
<line x1="967.04" y1="130.60" x2="967.04" y2="146.03" stroke="#000" stroke-width="0.55" />
<rect x="965.97" y="136.92" width="2.14" height="3.54" fill="#fff" stroke="#000" stroke-width="0.55"/>
<line x1="971.31" y1="123.64" x2="971.31" y2="144.51" stroke="#000" stroke-width="0.55" />
<rect x="970.24" y="129.35" width="2.14" height="7.63" fill="#fff" stroke="#000" stroke-width="0.55"/>
<line x1="975.58" y1="127.12" x2="975.58" y2="135.44" stroke="#000" stroke-width="0.55" />
<rect x="974.25" y="128.18" width="2.67" height="5.75" fill="#000" />
<line x1="979.85" y1="119.10" x2="979.85" y2="133.92" stroke="#000" stroke-width="0.55" />
<rect x="978.78" y="123.91" width="2.14" height="8.99" fill="#fff" stroke="#000" stroke-width="0.55"/>
<line x1="984.12" y1="119.10" x2="984.12" y2="132.41" stroke="#000" stroke-width="0.55" />
<line x1="982.77" y1="124.09" x2="985.47" y2="124.09" stroke="#000" stroke-width="0.6" />
<line x1="988.39" y1="124.09" x2="988.39" y2="149.81" stroke="#000" stroke-width="0.55" />
<rect x="987.06" y="124.85" width="2.67" height="18.46" fill="#000" />
<line x1="992.66" y1="136.95" x2="992.66" y2="147.54" stroke="#000" stroke-width="0.55" />
<rect x="991.59" y="141.00" width="2.14" height="2.49" fill="#fff" stroke="#000" stroke-width="0.55"/>
<circle cx="15.06" cy="421.00" r="3.1" fill="#ff4500"/>
<circle cx="121.78" cy="424.70" r="3.1" fill="#ff4500"/>
<circle cx="249.85" cy="421.70" r="3.1" fill="#ff4500"/>
<circle cx="429.00" cy="320.00" r="3.1" fill="#ff4500"/>
<circle cx="531.30" cy="304.20" r="3.1" fill="#ff4500"/>
<circle cx="595.40" cy="253.50" r="3.1" fill="#ff4500"/>
<circle cx="710.70" cy="181.70" r="3.1" fill="#ff4500"/>
<circle cx="915.50" cy="221.80" r="3.1" fill="#ff4500"/>
<circle cx="100.44" cy="333.40" r="3.1" fill="#4169e1"/>
<circle cx="219.97" cy="365.70" r="3.1" fill="#4169e1"/>
<circle cx="505.90" cy="208.70" r="3.1" fill="#4169e1"/>
<circle cx="573.90" cy="191.20" r="3.1" fill="#4169e1"/>
<circle cx="578.50" cy="191.20" r="3.1" fill="#4169e1"/>
<circle cx="642.50" cy="101.20" r="3.1" fill="#4169e1"/>
<circle cx="736.40" cy="104.50" r="3.1" fill="#4169e1"/>
<circle cx="979.70" cy="112.00" r="3.1" fill="#4169e1"/>
<circle cx="360.60" cy="87.20" r="5.0" fill="#0000ff"/>
<circle cx="808.90" cy="61.30" r="5.0" fill="#0000ff"/>
<circle cx="476.10" cy="343.80" r="4.85" fill="#ff0000"/>
<clipPath id="cpm"><rect x="0" y="52" width="1000" height="387"/></clipPath>
<circle cx="181.55" cy="438.6" r="4.8" fill="#ff0000" clip-path="url(#cpm)"/>
<polyline points="2.3,471.5 6.7,479.9 11.0,485.7 15.2,489.9 19.5,494.9 23.7,497.4 28.0,502.4 32.2,507.4 36.6,512.4 40.7,516.3 45.1,516.3 49.4,514.1 53.6,512.4 57.9,508.3 62.1,505.8 66.4,507.4 70.8,505.8 75.0,501.6 79.3,493.2 83.5,482.4 87.8,473.2 92.0,464.9 96.3,460.2 100.5,468.7 104.8,472.4 109.2,475.4 113.4,481.6 117.7,489.1 121.9,497.4 126.2,504.1 130.6,510.8 134.7,516.1 139.1,520.0 143.2,519.1 147.6,518.3 151.8,517.0 156.1,514.1 160.0,512.4 165.0,509.6 169.2,509.9 173.4,511.3 177.5,512.8 181.4,513.8 185.9,510.8 190.1,506.6 194.2,505.4 198.4,500.8 202.6,494.9 206.7,489.9 210.9,480.7 215.1,470.7 219.3,461.2 223.4,459.9 227.6,460.7 231.8,463.7 236.0,465.7 240.1,471.5 245.1,478.2 250.2,484.1 255.2,489.1 259.3,494.1 262.7,500.4 266.8,497.8 271.0,494.9 275.2,492.4 279.4,486.6 283.5,479.1 287.7,471.5 291.9,463.7 296.1,460.4 300.2,455.7 305.2,451.0 310.3,451.0 315.3,449.8 320.0,449.3 325.0,448.7 330.0,449.3 336.7,448.7 343.4,448.2 350.1,447.3 355.9,446.5 360.9,445.3 365.1,447.0 370.1,450.7 374.3,454.9 378.4,460.7 383.4,466.5 388.4,473.2 393.5,481.6 398.5,489.1 402.6,499.1 406.8,508.3 410.2,512.1 415.2,514.1 420.2,516.6 425.2,519.5 428.5,520.5 433.5,518.3 438.5,517.5 443.5,517.8 448.5,517.5 453.6,516.8 458.6,516.6 463.6,512.1 468.6,509.9 473.6,509.1 478.6,508.3 480.0,508.3 485.0,503.3 490.0,494.9 495.0,488.2 500.0,482.4 505.0,476.6 510.1,472.4 515.1,470.4 520.1,469.0 524.2,468.2 528.4,469.9 532.6,473.2 535.9,476.6 540.1,478.2 544.3,481.1 548.4,483.7 552.6,485.7 556.8,482.7 561.0,479.9 565.1,477.4 569.3,472.4 573.5,465.7 577.7,459.4 581.8,455.7 586.0,454.4 590.2,454.9 593.5,458.7 596.9,461.5 601.9,464.9 606.9,468.2 611.9,469.9 616.9,473.2 621.9,478.2 626.1,483.2 629.4,485.7 632.8,481.6 636.1,472.4 638.6,467.4 640.0,466.5 643.3,464.9 647.5,464.4 651.7,463.7 655.9,464.9 660.0,464.4 664.2,463.7 668.4,459.9 672.6,458.2 676.7,459.4 680.9,462.4 685.1,465.7 690.1,469.0 695.1,474.1 700.1,479.9 705.1,486.6 710.1,493.2 715.1,500.4 719.3,503.3 723.5,499.9 727.6,494.9 731.8,487.4 736.0,480.7 740.2,476.6 744.3,470.7 748.5,466.5 753.5,463.7 758.5,464.4 763.5,464.4 768.5,464.9 773.6,467.7 778.6,469.4 783.6,467.4 788.6,467.0 793.6,465.4 798.6,463.7 800.0,462.4 804.2,459.0 808.7,455.7 812.5,458.2 815.9,457.4 820.0,460.4 825.0,465.7 830.1,474.1 835.1,483.2 840.1,493.2 843.4,500.8 847.6,508.3 851.8,514.1 855.9,517.1 860.1,519.5 864.3,517.5 868.4,515.0 872.6,509.9 876.8,509.9 881.8,506.6 886.8,502.8 891.8,501.9 896.0,502.8 900.2,506.6 904.3,513.3 908.5,519.5 912.7,524.1 916.9,526.1 921.9,526.1 928.5,525.8 932.7,521.6 936.9,515.0 941.9,508.3 946.1,500.8 946.8,499.3 954.1,486.0 959.6,481.1 965.7,470.8 971.8,461.6 975.4,459.2 979.7,460.7 983.9,459.2 987.6,461.6 992.5,464.7 996.7,467.1" fill="none" stroke="#3cbcb4" stroke-width="0.75" stroke-linejoin="round"/>
<polyline points="2.3,471.5 6.7,473.2 11.0,475.7 15.2,479.9 19.5,484.9 23.7,489.1 28.0,493.7 32.2,498.3 36.6,502.8 40.7,507.4 45.1,510.8 49.4,512.9 53.6,514.1 57.9,513.3 62.1,511.6 66.4,509.9 70.8,508.3 75.0,505.8 79.3,502.1 83.5,496.6 87.8,489.9 92.0,482.1 96.3,474.6 100.5,469.5 104.8,467.4 109.2,468.2 113.4,471.5 117.7,477.4 121.9,484.1 126.2,490.7 130.6,498.3 134.7,505.4 139.1,510.8 143.2,515.0 147.6,517.5 151.8,518.6 156.1,518.3 160.0,516.6 165.0,514.5 169.2,512.4 173.4,511.6 177.5,511.3 181.4,511.6 185.9,511.6 190.1,511.1 194.2,509.9 198.4,507.1 202.6,503.3 206.7,499.1 210.9,494.1 215.1,486.6 219.3,479.1 223.4,472.4 227.6,467.0 231.8,464.0 236.0,462.4 240.1,464.0 245.1,468.7 250.2,474.1 255.2,479.9 259.3,485.4 262.7,489.1 266.8,492.1 271.0,494.1 275.2,495.4 279.4,494.1 283.5,489.1 287.7,484.1 291.9,477.4 296.1,470.7 300.2,464.9 305.2,459.0 310.3,454.9 315.3,452.0 320.0,450.7 325.0,449.8 330.0,449.8 336.7,449.0 343.4,448.7 350.1,448.2 355.9,447.3 360.9,447.0 365.1,446.5 370.1,447.0 374.3,449.0 378.4,452.0 383.4,457.4 388.4,463.2 393.5,469.9 398.5,477.4 402.6,484.9 406.8,492.4 410.2,498.3 415.2,505.8 420.2,511.6 425.2,515.5 428.5,516.8 433.5,517.8 438.5,518.5 443.5,518.6 448.5,517.8 453.6,517.5 458.6,517.0 463.6,515.8 468.6,513.8 473.6,511.6 478.6,509.9 480.0,510.4 485.0,508.3 490.0,504.9 495.0,500.8 500.0,494.9 505.0,489.1 510.1,482.7 515.1,477.4 520.1,473.7 524.2,471.0 528.4,469.9 532.6,469.9 535.9,471.0 540.1,473.2 544.3,476.1 548.4,478.7 552.6,480.7 556.8,482.1 561.0,482.7 565.1,482.4 569.3,480.7 573.5,477.4 577.7,472.4 581.8,467.4 586.0,462.4 590.2,458.2 593.5,456.5 596.9,456.5 601.9,458.7 606.9,462.0 611.9,465.4 616.9,469.0 621.9,472.7 626.1,476.1 629.4,478.2 632.8,479.4 636.1,479.1 638.6,478.6 640.0,478.2 643.3,476.1 647.5,473.2 651.7,469.0 655.9,465.7 660.0,464.4 664.2,464.0 668.4,463.2 672.6,462.4 676.7,461.2 680.9,460.7 685.1,461.5 690.1,464.0 695.1,467.4 700.1,471.5 705.1,476.6 710.1,482.7 715.1,489.1 719.3,493.2 723.5,496.6 727.6,498.3 731.8,497.4 736.0,493.7 740.2,488.2 744.3,482.4 748.5,476.6 753.5,471.0 758.5,467.4 763.5,465.4 768.5,464.4 773.6,464.9 778.6,465.7 783.6,466.7 788.6,467.7 793.6,467.9 798.6,466.5 800.0,466.0 804.2,463.7 808.7,461.5 812.5,459.9 815.9,459.0 820.0,458.2 825.0,459.4 830.1,464.0 835.1,469.9 840.1,478.2 843.4,484.9 847.6,493.2 851.8,500.8 855.9,507.4 860.1,512.4 864.3,515.5 868.4,516.8 872.6,516.1 876.8,514.1 881.8,511.1 886.8,508.3 891.8,505.8 896.0,504.1 900.2,503.3 904.3,504.9 908.5,509.1 912.7,514.1 916.9,518.8 921.9,522.5 928.5,525.5 932.7,525.0 936.9,522.8 941.9,519.1 946.1,514.1 948.7,509.1 955.4,500.0 963.3,487.8 970.6,476.8 976.6,468.9 982.7,462.8 987.6,460.4 992.5,461.0 996.7,462.6" fill="none" stroke="#ff4040" stroke-width="0.75" stroke-linejoin="round"/>
<rect x="998.20" y="52.00" width="0.90" height="488.00" fill="#555" />
<rect x="995.90" y="137.00" width="2.50" height="23.90" fill="#b4b4b4" />
<rect x="995.90" y="140.90" width="2.50" height="5.60" fill="#000" />
<rect x="995.6" y="52.6" width="2.6" height="2.6" fill="#ffd0d0" stroke="#e03030" stroke-width="0.6"/>
<rect x="0.50" y="438.80" width="998.50" height="1.90" fill="#6e6e6e" />
<path d="M996,435.5 L998.3,437.5 L996,439 Z" fill="#e03030"/>
<rect x="1.20" y="539.20" width="998.00" height="1.00" fill="#7a7a7a" />
<rect x="0.00" y="551.90" width="1024.00" height="0.95" fill="#707070" />
<line x1="999.00" y1="67.50" x2="1000.60" y2="67.50" stroke="#333" stroke-width="0.55" />
<text x="1002.20" y="69.25" font-size="4.9" fill="#111" stroke="#111" stroke-width="0.09" textLength="16.80" lengthAdjust="spacingAndGlyphs">130.145</text>
<line x1="999.00" y1="85.12" x2="1000.60" y2="85.12" stroke="#333" stroke-width="0.55" />
<text x="1002.20" y="86.87" font-size="4.9" fill="#111" stroke="#111" stroke-width="0.09" textLength="16.80" lengthAdjust="spacingAndGlyphs">129.920</text>
<line x1="999.00" y1="102.74" x2="1000.60" y2="102.74" stroke="#333" stroke-width="0.55" />
<text x="1002.20" y="104.49" font-size="4.9" fill="#111" stroke="#111" stroke-width="0.09" textLength="16.80" lengthAdjust="spacingAndGlyphs">129.690</text>
<line x1="999.00" y1="120.36" x2="1000.60" y2="120.36" stroke="#333" stroke-width="0.55" />
<text x="1002.20" y="122.11" font-size="4.9" fill="#111" stroke="#111" stroke-width="0.09" textLength="16.80" lengthAdjust="spacingAndGlyphs">129.460</text>
<line x1="999.00" y1="137.98" x2="1000.60" y2="137.98" stroke="#333" stroke-width="0.55" />
<text x="1002.20" y="139.73" font-size="4.9" fill="#111" stroke="#111" stroke-width="0.09" textLength="16.80" lengthAdjust="spacingAndGlyphs">129.235</text>
<line x1="999.00" y1="155.60" x2="1000.60" y2="155.60" stroke="#333" stroke-width="0.55" />
<text x="1002.20" y="157.35" font-size="4.9" fill="#111" stroke="#111" stroke-width="0.09" textLength="16.80" lengthAdjust="spacingAndGlyphs">129.005</text>
<line x1="999.00" y1="173.22" x2="1000.60" y2="173.22" stroke="#333" stroke-width="0.55" />
<text x="1002.20" y="174.97" font-size="4.9" fill="#111" stroke="#111" stroke-width="0.09" textLength="16.80" lengthAdjust="spacingAndGlyphs">128.775</text>
<line x1="999.00" y1="190.84" x2="1000.60" y2="190.84" stroke="#333" stroke-width="0.55" />
<text x="1002.20" y="192.59" font-size="4.9" fill="#111" stroke="#111" stroke-width="0.09" textLength="16.80" lengthAdjust="spacingAndGlyphs">128.550</text>
<line x1="999.00" y1="208.46" x2="1000.60" y2="208.46" stroke="#333" stroke-width="0.55" />
<text x="1002.20" y="210.21" font-size="4.9" fill="#111" stroke="#111" stroke-width="0.09" textLength="16.80" lengthAdjust="spacingAndGlyphs">128.320</text>
<line x1="999.00" y1="226.08" x2="1000.60" y2="226.08" stroke="#333" stroke-width="0.55" />
<text x="1002.20" y="227.83" font-size="4.9" fill="#111" stroke="#111" stroke-width="0.09" textLength="16.80" lengthAdjust="spacingAndGlyphs">128.090</text>
<line x1="999.00" y1="243.70" x2="1000.60" y2="243.70" stroke="#333" stroke-width="0.55" />
<text x="1002.20" y="245.45" font-size="4.9" fill="#111" stroke="#111" stroke-width="0.09" textLength="16.80" lengthAdjust="spacingAndGlyphs">127.865</text>
<line x1="999.00" y1="261.32" x2="1000.60" y2="261.32" stroke="#333" stroke-width="0.55" />
<text x="1002.20" y="263.07" font-size="4.9" fill="#111" stroke="#111" stroke-width="0.09" textLength="16.80" lengthAdjust="spacingAndGlyphs">127.635</text>
<line x1="999.00" y1="278.94" x2="1000.60" y2="278.94" stroke="#333" stroke-width="0.55" />
<text x="1002.20" y="280.69" font-size="4.9" fill="#111" stroke="#111" stroke-width="0.09" textLength="16.80" lengthAdjust="spacingAndGlyphs">127.405</text>
<line x1="999.00" y1="296.56" x2="1000.60" y2="296.56" stroke="#333" stroke-width="0.55" />
<text x="1002.20" y="298.31" font-size="4.9" fill="#111" stroke="#111" stroke-width="0.09" textLength="16.80" lengthAdjust="spacingAndGlyphs">127.180</text>
<line x1="999.00" y1="314.18" x2="1000.60" y2="314.18" stroke="#333" stroke-width="0.55" />
<text x="1002.20" y="315.93" font-size="4.9" fill="#111" stroke="#111" stroke-width="0.09" textLength="16.80" lengthAdjust="spacingAndGlyphs">126.955</text>
<line x1="999.00" y1="331.80" x2="1000.60" y2="331.80" stroke="#333" stroke-width="0.55" />
<text x="1002.20" y="333.55" font-size="4.9" fill="#111" stroke="#111" stroke-width="0.09" textLength="16.80" lengthAdjust="spacingAndGlyphs">126.725</text>
<line x1="999.00" y1="349.42" x2="1000.60" y2="349.42" stroke="#333" stroke-width="0.55" />
<text x="1002.20" y="351.17" font-size="4.9" fill="#111" stroke="#111" stroke-width="0.09" textLength="16.80" lengthAdjust="spacingAndGlyphs">126.495</text>
<line x1="999.00" y1="367.04" x2="1000.60" y2="367.04" stroke="#333" stroke-width="0.55" />
<text x="1002.20" y="368.79" font-size="4.9" fill="#111" stroke="#111" stroke-width="0.09" textLength="16.80" lengthAdjust="spacingAndGlyphs">126.270</text>
<line x1="999.00" y1="384.66" x2="1000.60" y2="384.66" stroke="#333" stroke-width="0.55" />
<text x="1002.20" y="386.41" font-size="4.9" fill="#111" stroke="#111" stroke-width="0.09" textLength="16.80" lengthAdjust="spacingAndGlyphs">126.040</text>
<line x1="999.00" y1="402.28" x2="1000.60" y2="402.28" stroke="#333" stroke-width="0.55" />
<text x="1002.20" y="404.03" font-size="4.9" fill="#111" stroke="#111" stroke-width="0.09" textLength="16.80" lengthAdjust="spacingAndGlyphs">125.810</text>
<line x1="999.00" y1="419.90" x2="1000.60" y2="419.90" stroke="#333" stroke-width="0.55" />
<text x="1002.20" y="421.65" font-size="4.9" fill="#111" stroke="#111" stroke-width="0.09" textLength="16.80" lengthAdjust="spacingAndGlyphs">125.585</text>
<line x1="999.00" y1="437.52" x2="1000.60" y2="437.52" stroke="#333" stroke-width="0.55" />
<text x="1002.20" y="439.27" font-size="4.9" fill="#111" stroke="#111" stroke-width="0.09" textLength="16.80" lengthAdjust="spacingAndGlyphs">125.355</text>
<text x="1001.20" y="446.45" font-size="4.9" fill="#111" stroke="#111" stroke-width="0.09" textLength="7.65" lengthAdjust="spacingAndGlyphs">100</text>
<text x="1001.20" y="462.55" font-size="4.9" fill="#111" stroke="#111" stroke-width="0.09" textLength="5.10" lengthAdjust="spacingAndGlyphs">80</text>
<text x="1001.20" y="521.65" font-size="4.9" fill="#111" stroke="#111" stroke-width="0.09" textLength="5.10" lengthAdjust="spacingAndGlyphs">20</text>
<text x="1001.20" y="537.85" font-size="4.9" fill="#111" stroke="#111" stroke-width="0.09" textLength="2.55" lengthAdjust="spacingAndGlyphs">0</text>
<line x1="999.00" y1="460.40" x2="1000.40" y2="460.40" stroke="#333" stroke-width="0.55" />
<line x1="999.00" y1="519.50" x2="1000.40" y2="519.50" stroke="#333" stroke-width="0.55" />
<line x1="2.40" y1="540.00" x2="2.40" y2="541.60" stroke="#222" stroke-width="0.6" />
<text x="1.60" y="546.95" font-size="4.9" fill="#111" stroke="#111" stroke-width="0.09" textLength="27.40" lengthAdjust="spacingAndGlyphs">21 Feb 2012</text>
<line x1="36.55" y1="540.00" x2="36.55" y2="541.60" stroke="#222" stroke-width="0.6" />
<text x="35.75" y="546.95" font-size="4.9" fill="#111" stroke="#111" stroke-width="0.09" textLength="29.00" lengthAdjust="spacingAndGlyphs">22 Feb 03:00</text>
<line x1="70.70" y1="540.00" x2="70.70" y2="541.60" stroke="#222" stroke-width="0.6" />
<text x="69.90" y="546.95" font-size="4.9" fill="#111" stroke="#111" stroke-width="0.09" textLength="29.00" lengthAdjust="spacingAndGlyphs">22 Feb 11:00</text>
<line x1="104.86" y1="540.00" x2="104.86" y2="541.60" stroke="#222" stroke-width="0.6" />
<text x="104.06" y="546.95" font-size="4.9" fill="#111" stroke="#111" stroke-width="0.09" textLength="29.00" lengthAdjust="spacingAndGlyphs">22 Feb 19:00</text>
<line x1="139.01" y1="540.00" x2="139.01" y2="541.60" stroke="#222" stroke-width="0.6" />
<text x="138.21" y="546.95" font-size="4.9" fill="#111" stroke="#111" stroke-width="0.09" textLength="29.00" lengthAdjust="spacingAndGlyphs">23 Feb 03:00</text>
<line x1="173.16" y1="540.00" x2="173.16" y2="541.60" stroke="#222" stroke-width="0.6" />
<text x="172.36" y="546.95" font-size="4.9" fill="#111" stroke="#111" stroke-width="0.09" textLength="29.00" lengthAdjust="spacingAndGlyphs">23 Feb 11:00</text>
<line x1="207.31" y1="540.00" x2="207.31" y2="541.60" stroke="#222" stroke-width="0.6" />
<text x="206.51" y="546.95" font-size="4.9" fill="#111" stroke="#111" stroke-width="0.09" textLength="29.00" lengthAdjust="spacingAndGlyphs">23 Feb 19:00</text>
<line x1="241.46" y1="540.00" x2="241.46" y2="541.60" stroke="#222" stroke-width="0.6" />
<text x="240.66" y="546.95" font-size="4.9" fill="#111" stroke="#111" stroke-width="0.09" textLength="29.00" lengthAdjust="spacingAndGlyphs">24 Feb 03:00</text>
<line x1="275.62" y1="540.00" x2="275.62" y2="541.60" stroke="#222" stroke-width="0.6" />
<text x="274.82" y="546.95" font-size="4.9" fill="#111" stroke="#111" stroke-width="0.09" textLength="29.00" lengthAdjust="spacingAndGlyphs">24 Feb 11:00</text>
<line x1="309.77" y1="540.00" x2="309.77" y2="541.60" stroke="#222" stroke-width="0.6" />
<text x="308.97" y="546.95" font-size="4.9" fill="#111" stroke="#111" stroke-width="0.09" textLength="29.00" lengthAdjust="spacingAndGlyphs">24 Feb 19:00</text>
<line x1="343.92" y1="540.00" x2="343.92" y2="541.60" stroke="#222" stroke-width="0.6" />
<text x="343.12" y="546.95" font-size="4.9" fill="#111" stroke="#111" stroke-width="0.09" textLength="29.00" lengthAdjust="spacingAndGlyphs">25 Feb 03:00</text>
<line x1="378.07" y1="540.00" x2="378.07" y2="541.60" stroke="#222" stroke-width="0.6" />
<text x="377.27" y="546.95" font-size="4.9" fill="#111" stroke="#111" stroke-width="0.09" textLength="29.00" lengthAdjust="spacingAndGlyphs">27 Feb 11:00</text>
<line x1="412.22" y1="540.00" x2="412.22" y2="541.60" stroke="#222" stroke-width="0.6" />
<text x="411.42" y="546.95" font-size="4.9" fill="#111" stroke="#111" stroke-width="0.09" textLength="29.00" lengthAdjust="spacingAndGlyphs">27 Feb 19:00</text>
<line x1="446.38" y1="540.00" x2="446.38" y2="541.60" stroke="#222" stroke-width="0.6" />
<text x="445.58" y="546.95" font-size="4.9" fill="#111" stroke="#111" stroke-width="0.09" textLength="29.00" lengthAdjust="spacingAndGlyphs">28 Feb 03:00</text>
<line x1="480.53" y1="540.00" x2="480.53" y2="541.60" stroke="#222" stroke-width="0.6" />
<text x="479.73" y="546.95" font-size="4.9" fill="#111" stroke="#111" stroke-width="0.09" textLength="29.00" lengthAdjust="spacingAndGlyphs">28 Feb 11:00</text>
<line x1="514.68" y1="540.00" x2="514.68" y2="541.60" stroke="#222" stroke-width="0.6" />
<text x="513.88" y="546.95" font-size="4.9" fill="#111" stroke="#111" stroke-width="0.09" textLength="29.00" lengthAdjust="spacingAndGlyphs">28 Feb 19:00</text>
<line x1="548.83" y1="540.00" x2="548.83" y2="541.60" stroke="#222" stroke-width="0.6" />
<text x="548.03" y="546.95" font-size="4.9" fill="#111" stroke="#111" stroke-width="0.09" textLength="29.00" lengthAdjust="spacingAndGlyphs">29 Feb 03:00</text>
<line x1="582.98" y1="540.00" x2="582.98" y2="541.60" stroke="#222" stroke-width="0.6" />
<text x="582.18" y="546.95" font-size="4.9" fill="#111" stroke="#111" stroke-width="0.09" textLength="29.00" lengthAdjust="spacingAndGlyphs">29 Feb 11:00</text>
<line x1="617.14" y1="540.00" x2="617.14" y2="541.60" stroke="#222" stroke-width="0.6" />
<text x="616.34" y="546.95" font-size="4.9" fill="#111" stroke="#111" stroke-width="0.09" textLength="29.00" lengthAdjust="spacingAndGlyphs">29 Feb 19:00</text>
<line x1="651.29" y1="540.00" x2="651.29" y2="541.60" stroke="#222" stroke-width="0.6" />
<text x="650.49" y="546.95" font-size="4.9" fill="#111" stroke="#111" stroke-width="0.09" textLength="26.60" lengthAdjust="spacingAndGlyphs">1 Mar 03:00</text>
<line x1="685.44" y1="540.00" x2="685.44" y2="541.60" stroke="#222" stroke-width="0.6" />
<text x="684.64" y="546.95" font-size="4.9" fill="#111" stroke="#111" stroke-width="0.09" textLength="26.60" lengthAdjust="spacingAndGlyphs">1 Mar 11:00</text>
<line x1="719.59" y1="540.00" x2="719.59" y2="541.60" stroke="#222" stroke-width="0.6" />
<text x="718.79" y="546.95" font-size="4.9" fill="#111" stroke="#111" stroke-width="0.09" textLength="26.60" lengthAdjust="spacingAndGlyphs">1 Mar 19:00</text>
<line x1="753.74" y1="540.00" x2="753.74" y2="541.60" stroke="#222" stroke-width="0.6" />
<text x="752.94" y="546.95" font-size="4.9" fill="#111" stroke="#111" stroke-width="0.09" textLength="26.60" lengthAdjust="spacingAndGlyphs">2 Mar 03:00</text>
<line x1="787.90" y1="540.00" x2="787.90" y2="541.60" stroke="#222" stroke-width="0.6" />
<text x="787.10" y="546.95" font-size="4.9" fill="#111" stroke="#111" stroke-width="0.09" textLength="26.60" lengthAdjust="spacingAndGlyphs">2 Mar 11:00</text>
<line x1="822.05" y1="540.00" x2="822.05" y2="541.60" stroke="#222" stroke-width="0.6" />
<text x="821.25" y="546.95" font-size="4.9" fill="#111" stroke="#111" stroke-width="0.09" textLength="26.60" lengthAdjust="spacingAndGlyphs">2 Mar 19:00</text>
<line x1="856.20" y1="540.00" x2="856.20" y2="541.60" stroke="#222" stroke-width="0.6" />
<text x="855.40" y="546.95" font-size="4.9" fill="#111" stroke="#111" stroke-width="0.09" textLength="26.60" lengthAdjust="spacingAndGlyphs">3 Mar 03:00</text>
<line x1="890.35" y1="540.00" x2="890.35" y2="541.60" stroke="#222" stroke-width="0.6" />
<text x="889.55" y="546.95" font-size="4.9" fill="#111" stroke="#111" stroke-width="0.09" textLength="26.60" lengthAdjust="spacingAndGlyphs">5 Mar 11:00</text>
<line x1="924.50" y1="540.00" x2="924.50" y2="541.60" stroke="#222" stroke-width="0.6" />
<text x="923.70" y="546.95" font-size="4.9" fill="#111" stroke="#111" stroke-width="0.09" textLength="26.60" lengthAdjust="spacingAndGlyphs">5 Mar 19:00</text>
<line x1="958.66" y1="540.00" x2="958.66" y2="541.60" stroke="#222" stroke-width="0.6" />
<text x="957.86" y="546.95" font-size="4.9" fill="#111" stroke="#111" stroke-width="0.09" textLength="26.60" lengthAdjust="spacingAndGlyphs">6 Mar 03:00</text>
<line x1="992.81" y1="540.00" x2="992.81" y2="541.60" stroke="#222" stroke-width="0.6" />
<text x="992.01" y="546.95" font-size="4.9" fill="#111" stroke="#111" stroke-width="0.09" textLength="26.60" lengthAdjust="spacingAndGlyphs">6 Mar 11:00</text>
<path d="M3.7,55.7 L7.6,55.7 L5.65,58.2 Z" fill="#000"/>
<text x="10.00" y="59.05" font-size="4.9" fill="#111" stroke="#111" stroke-width="0.09" textLength="37.60" lengthAdjust="spacingAndGlyphs">GBPJPY.oj5k,H1</text>
<text x="51.30" y="59.05" font-size="4.9" fill="#111" stroke="#111" stroke-width="0.09" textLength="74.70" lengthAdjust="spacingAndGlyphs">152.421 152.422 152.301 152.370</text>
<text x="4.10" y="446.85" font-size="4.9" fill="#111" stroke="#111" stroke-width="0.09" textLength="65.00" lengthAdjust="spacingAndGlyphs">Sto(10,5,10) 20.3536 18.9691</text></svg></div>
<div id="tabs"></div><div id="status"></div>

<svg class="abs" id="icons" style="left:0;top:0" width="1024" height="575" viewBox="0 0 1024 575" font-family="'Liberation Sans',sans-serif"><circle cx="4.7" cy="3.9" r="4.4" fill="#a7c932"/>
<path d="M3.0,6.9 V1.7 L6.5,6.2 V0.9" fill="none" stroke="#fff" stroke-width="1.35" stroke-linejoin="miter"/>
<line x1="959.2" y1="4.1" x2="964.4" y2="4.1" stroke="#999" stroke-width="0.7"/>
<rect x="983.6" y="2.6" width="4" height="4" fill="#fff" stroke="#333" stroke-width="0.6"/>
<path d="M984.8,2.6 V1.5 H988.8 V5.5 H987.6" fill="none" stroke="#333" stroke-width="0.6"/>
<path d="M1008.2,1.4 L1013.4,6.6 M1013.4,1.4 L1008.2,6.6" stroke="#222" stroke-width="0.7" fill="none"/>
<rect x="2.3" y="12.3" width="5.6" height="4.6" rx="0.6" fill="#dcecfb" stroke="#4d90d6" stroke-width="0.7"/>
<rect x="4.2" y="14.4" width="5.6" height="4.6" rx="0.6" fill="#eaf3fc" stroke="#4d90d6" stroke-width="0.7"/>
<rect x="4.6" y="14.8" width="4.8" height="1.2" fill="#5b9be0"/>
<rect x="994.4" y="12" width="8.4" height="8" fill="#fff"/>
<rect x="1004.0" y="12" width="8.4" height="8" fill="#fff"/>
<rect x="1014.2" y="12" width="8.4" height="8" fill="#fff"/>
<rect x="997" y="17.4" width="2.6" height="0.9" fill="#4a6ea8"/>
<rect x="1006.4" y="15.4" width="3.2" height="2.6" fill="#dfe6f2" stroke="#7a8db0" stroke-width="0.5"/>
<path d="M1007.4,15.4 V14.4 H1010.6 V17 H1009.6" fill="none" stroke="#7a8db0" stroke-width="0.5"/>
<path d="M1016.8,14.4 L1020.4,18 M1020.4,14.4 L1016.8,18" stroke="#4a6ea8" stroke-width="0.9"/>
<rect x="0" y="21.1" width="1024" height="0.8" fill="#d5d5d5"/>
<rect x="0" y="35.4" width="448" height="0.6" fill="#dadada"/>
<rect x="0" y="36.0" width="1024" height="0.9" fill="#f8f8f8"/>
<rect x="447.3" y="22.2" width="0.6" height="13.4" fill="#d2d2d2"/>
<rect x="1.05" y="24" width="1.1" height="10.00" fill="#c4c4c4"/>
<rect x="5.3" y="25.2" width="6.6" height="5.4" rx="0.5" fill="#e8f1fb" stroke="#4f8fd3" stroke-width="0.7"/>
<rect x="5.6" y="25.5" width="6" height="1.1" fill="#5b9be0"/>
<path d="M10.00,27.40 h2.0 v2.20 h2.20 v2.0 h-2.20 v2.20 h-2.0 v-2.20 h-2.20 v-2.0 h2.20 Z" fill="#2fc02f" stroke="#1a9a1a" stroke-width="0.35"/>
<path d="M17.10,28.55 h2.6 l-1.30,1.5 Z" fill="#111"/>
<rect x="25.2" y="25.3" width="6.6" height="5.2" rx="0.5" fill="#d4e6f8" stroke="#4f8fd3" stroke-width="0.7"/>
<rect x="27.2" y="27.4" width="7" height="5.6" rx="0.5" fill="#c5dcf3" stroke="#4f8fd3" stroke-width="0.7"/>
<rect x="28.3" y="30.2" width="4.8" height="1.6" fill="#f5f9fd"/>
<path d="M36.80,28.55 h2.6 l-1.30,1.5 Z" fill="#111"/>
<rect x="43.35" y="23.6" width="0.8" height="10.80" fill="#c9c9c9"/>
<rect x="48.4" y="25.2" width="8.2" height="8.2" rx="0.8" fill="#fdfeff" stroke="#7fb2e6" stroke-width="0.8"/>
<path d="M51.3,26.6 l1.5,1.5 l-1.5,1.5 l-1.5,-1.5 Z" fill="#2ca02c"/>
<path d="M53.4,28.7 l1.7,1.7 l-1.7,1.7 l-1.7,-1.7 Z" fill="#e8553a"/>
<path d="M67.9,26.2 L71.3,29.6 L67.9,33.0 L64.5,29.6 Z" fill="#ececec" stroke="#4a4a4a" stroke-width="0.9"/>
<path d="M67.9,25.6 V33.6 M63.9,29.6 H71.9" stroke="#4a4a4a" stroke-width="0.6"/>
<circle cx="67.9" cy="29.6" r="1.5" fill="#f0f0f0" stroke="#777" stroke-width="0.4"/>
<path d="M78.2,25.3 h2.6 l0.8,0.9 h3.4 v4.2 h-6.8 Z" fill="#f7d265" stroke="#d9a520" stroke-width="0.5"/>
<path d="M80.4,30.4 v3" stroke="#888" stroke-width="0.5"/>
<path d="M84.6,27.6 l0.95,2.0 l2.2,0.3 l-1.6,1.5 l0.4,2.2 l-1.95,-1.05 l-1.95,1.05 l0.4,-2.2 l-1.6,-1.5 l2.2,-0.3 Z" fill="#f6c63a" stroke="#d39a14" stroke-width="0.45"/>
<rect x="93.4" y="25.4" width="8.4" height="7.8" rx="0.8" fill="#fdfeff" stroke="#5f9be0" stroke-width="1.0"/>
<rect x="93.9" y="25.9" width="2.4" height="6.8" fill="#2f6fc0"/>
<rect x="96.3" y="25.9" width="0.6" height="6.8" fill="#e86a6a"/>
<rect x="97.4" y="27" width="3.6" height="4.6" fill="#dff3f6"/>
<rect x="108.3" y="25.3" width="6.8" height="7.2" fill="#f4f4f4" stroke="#b5b5b5" stroke-width="0.5"/>
<circle cx="112.2" cy="29.4" r="2.7" fill="#d9ecf8" stroke="#6aa6d6" stroke-width="0.8"/>
<path d="M112.2,28 v1.6" stroke="#567" stroke-width="0.4"/>
<path d="M114.6,31.8 L117.2,33.9" stroke="#e0a030" stroke-width="1.3" stroke-linecap="round"/>
<rect x="121.50" y="23.6" width="0.8" height="10.80" fill="#c9c9c9"/>
<path d="M127.2,24.8 h4.4 l2,2 v5.8 h-6.4 Z" fill="#fbfbfb" stroke="#a9a9a9" stroke-width="0.5"/>
<path d="M131.6,24.8 v2 h2" fill="none" stroke="#a9a9a9" stroke-width="0.4"/>
<path d="M131.45,28.40 h1.9 v2.05 h2.05 v1.9 h-2.05 v2.05 h-1.9 v-2.05 h-2.05 v-1.9 h2.05 Z" fill="#2fc02f" stroke="#1a9a1a" stroke-width="0.35"/>
<path d="M168.9,30.2 L174.6,25.4 L177.9,29.4 L173.4,33.6 Z" fill="#e58a1c" stroke="#b8650e" stroke-width="0.5"/>
<path d="M170.8,29.8 L174.4,26.9 M171.8,30.9 L175.4,28.0" stroke="#ffd089" stroke-width="0.6"/>
<path d="M168.9,30.2 L173.4,33.6 L173.4,34.4 L168.9,31.0 Z" fill="#c46f10"/>
<path d="M185.6,30.2 V26.6 q0,-1.6 1.6,-1.6 h2.6 q1.6,0 1.6,1.6 V30.2 Z" fill="#3f9be8"/>
<path d="M187.2,26.4 l1.4,1.2 l1.4,-1.2" stroke="#cfe6fb" stroke-width="0.5" fill="none"/>
<path d="M184.4,33.4 q-0.6,-2.6 2.0,-2.8 q0.8,-1.6 2.6,-0.8 q2.4,-0.6 2.6,1.2 q1.6,0.4 1.0,2.4 Z" fill="#e9f0f7" stroke="#9db4cc" stroke-width="0.5"/>
<circle cx="203.3" cy="29.3" r="4.3" fill="#dfe7ef" stroke="#a9bccf" stroke-width="0.5"/>
<path d="M199.6,28.2 q1.8,-3.4 4.0,-3.0 q-2.6,2.2 -2.4,5.6 q-1.6,-0.6 -1.6,-2.6 Z" fill="#7fb0e0"/>
<path d="M202.4,29.2 l1.6,3.6 l3.0,-5.8 l-1.0,4.8 l-2.2,1.8 Z" fill="#2cae3a"/>
<path d="M203.0,28.0 l1.2,-1.2 l1.0,1.4" fill="#2a6fb5"/>
<path d="M213.4,28.4 q1.0,-3.4 4.6,-3.4 q3.6,0 4.4,3.0 l-4.6,1.8 Z" fill="#4a9ae4"/>
<path d="M213.6,28.6 l4.2,1.2 l3.4,-1.2 l-0.6,3.4 l-3.6,1.8 l-2.6,-2.6 Z" fill="#f3c23c"/>
<path d="M215.4,26.4 q2.4,-1.4 5,0" stroke="#cfe4f8" stroke-width="0.5" fill="none"/>
<circle cx="220.0" cy="31.2" r="2.3" fill="#e23a2a"/>
<rect x="219.1" y="30.5" width="1.8" height="1.4" fill="#fff"/>
<rect x="254.1" y="22.4" width="0.6" height="13" fill="#d4d4d4"/>
<rect x="256.65" y="24" width="1.1" height="9.60" fill="#c4c4c4"/>
<rect x="263.20" y="26.0" width="1.3" height="7.10" fill="#a8a8a8"/>
<rect x="262.60" y="32.10" width="7.40" height="0.8" fill="#6e6e6e"/>
<path d="M267.4,27.2 V31.0 M266.2,30.4 H267.4 M267.4,27.8 H268.6" stroke="#2aa52a" stroke-width="0.8" fill="none"/>
<rect x="274.4" y="23.4" width="13.4" height="11.4" fill="#fafafa" stroke="#d7d7d7" stroke-width="0.5"/>
<rect x="278.20" y="26.0" width="1.3" height="7.10" fill="#a8a8a8"/>
<rect x="277.60" y="32.10" width="7.15" height="0.8" fill="#6e6e6e"/>
<rect x="280.6" y="25.5" width="2.6" height="5.6" rx="1.2" fill="#1fc01f" stroke="#169016" stroke-width="0.4"/>
<rect x="292.85" y="26.0" width="1.3" height="7.10" fill="#a8a8a8"/>
<rect x="292.25" y="32.10" width="7.50" height="0.8" fill="#6e6e6e"/>
<path d="M293.6,31.2 q1.0,-4.4 3.2,-4.4 q1.4,0.2 2.6,2.2" stroke="#2aa52a" stroke-width="0.8" fill="none"/>
<rect x="304.35" y="23.6" width="0.8" height="10.80" fill="#c9c9c9"/>
<path d="M315.00,30.70 L317.60,33.10" stroke="#e3b23a" stroke-width="1.5" stroke-linecap="round"/>
<circle cx="312.6" cy="28.3" r="3.2" fill="#d8ecfa" stroke="#6ea8dc" stroke-width="0.8"/>
<path d="M311.0,28.3 h3.2" stroke="#3b78c0" stroke-width="0.8"/>
<path d="M312.6,26.7 v3.2" stroke="#3b78c0" stroke-width="0.8"/>
<path d="M330.00,30.70 L332.60,33.10" stroke="#e3b23a" stroke-width="1.5" stroke-linecap="round"/>
<circle cx="327.6" cy="28.3" r="3.2" fill="#d8ecfa" stroke="#6ea8dc" stroke-width="0.8"/>
<path d="M326.0,28.3 h3.2" stroke="#3b78c0" stroke-width="0.8"/>
<rect x="339.0" y="24.9" width="4.3" height="4.2" fill="#2ea82e"/>
<rect x="343.6" y="24.9" width="4.3" height="4.2" fill="#2f74d6"/>
<rect x="339.0" y="29.4" width="4.3" height="4.2" fill="#2f74d6"/>
<rect x="343.6" y="29.4" width="4.3" height="4.2" fill="#2ea82e"/>
<rect x="340.0" y="27.0" width="2.4" height="1.5" fill="#f2f8ff"/>
<rect x="344.6" y="27.0" width="2.4" height="1.5" fill="#f2f8ff"/>
<rect x="340.0" y="31.4" width="2.4" height="1.5" fill="#f2f8ff"/>
<rect x="344.6" y="31.4" width="2.4" height="1.5" fill="#f2f8ff"/>
<rect x="352.20" y="23.6" width="0.8" height="10.80" fill="#c9c9c9"/>
<rect x="359.10" y="26.0" width="1.3" height="7.10" fill="#a8a8a8"/>
<rect x="358.50" y="32.10" width="7.80" height="0.8" fill="#6e6e6e"/>
<path d="M362.0,27.4 L364.8,29.3 L362.0,31.2 Z" fill="#2cb52c"/>
<rect x="374.10" y="26.0" width="1.3" height="7.10" fill="#a8a8a8"/>
<rect x="373.50" y="32.10" width="7.80" height="0.8" fill="#6e6e6e"/>
<rect x="377.2" y="26.0" width="1.4" height="6" fill="#a9cdf0"/>
<path d="M380.6,27.8 L378.6,29.2 L380.6,30.6 Z" fill="#d8452a"/>
<rect x="385.60" y="23.6" width="0.8" height="10.80" fill="#c9c9c9"/>
<path d="M391.2,24.8 h4.2 l2,2 v5.8 h-6.2 Z" fill="#fbfbfb" stroke="#a9a9a9" stroke-width="0.5"/>
<path d="M392.2,27.5 v3.5" stroke="#d88" stroke-width="0.4"/>
<path d="M395.35,28.40 h1.9 v2.05 h2.05 v1.9 h-2.05 v2.05 h-1.9 v-2.05 h-2.05 v-1.9 h2.05 Z" fill="#2fc02f" stroke="#1a9a1a" stroke-width="0.35"/>
<path d="M401.60,28.65 h2.6 l-1.30,1.5 Z" fill="#111"/>
<circle cx="414.4" cy="29.3" r="3.7" fill="#eef5fc" stroke="#2f6fc4" stroke-width="1.5"/>
<path d="M414.4,29.3 L413.2,27.6 M414.4,29.3 L415.6,29.9" stroke="#445" stroke-width="0.5" fill="none"/>
<path d="M421.60,28.65 h2.6 l-1.30,1.5 Z" fill="#111"/>
<rect x="430.3" y="25.7" width="8.2" height="7.4" rx="0.6" fill="#f6fbff" stroke="#5f9be0" stroke-width="0.9"/>
<rect x="430.7" y="26.0" width="7.4" height="1.1" fill="#4f8fd8"/>
<path d="M431.6,29.6 l1.4,-1.2 l1.6,0.5 l1.6,-1.2 l1.2,0.5" stroke="#e06060" stroke-width="0.5" fill="none"/>
<path d="M431.6,31.8 l1.6,-0.8 l1.6,0.6 l1.6,-0.9 l1,0.4" stroke="#40a840" stroke-width="0.6" fill="none"/>
<path d="M441.30,28.65 h2.6 l-1.30,1.5 Z" fill="#111"/>
<circle cx="1000.0" cy="27.8" r="1.9" fill="#f4f9ff" stroke="#3b82d6" stroke-width="1.0"/>
<path d="M998.6,29.4 L996.2,32.0" stroke="#3b82d6" stroke-width="1.2" stroke-linecap="round"/>
<path d="M1007.2,28.6 q0,-1.6 1.8,-1.6 h3 q1.8,0 1.8,1.6 v1.6 q0,1.6 -1.8,1.6 h-2 l-1.6,1.6 v-1.6 q-1.2,-0.2 -1.2,-1.6 Z" fill="#e3e3e3" stroke="#c6c6c6" stroke-width="0.4"/>
<circle cx="1016.3" cy="28.1" r="4.3" fill="#e2421f"/>
<text x="1016.3" y="30.3" font-size="6" font-weight="bold" fill="#fff" text-anchor="middle">1</text>
<rect x="1.05" y="38.2" width="1.1" height="10.60" fill="#c4c4c4"/>
<rect x="4.2" y="37.4" width="13" height="11.4" fill="#f9f9f9" stroke="#dadada" stroke-width="0.5"/>
<path d="M8.2,40.2 L8.2,46.2 L9.6,44.9 L10.8,47.5 L11.7,47.1 L10.6,44.6 L12.3,44.5 Z" fill="#3a3a3a"/>
<path d="M25.3,40.2 V48 M21.2,44.1 H29.4" stroke="#8a8a8a" stroke-width="0.7"/>
<rect x="34.30" y="38.4" width="0.8" height="10.40" fill="#c9c9c9"/>
<path d="M44.4,40.6 V47.5" stroke="#555" stroke-width="0.7"/>
<path d="M56.3,44.1 H62.8" stroke="#8a8a8a" stroke-width="0.9"/>
<path d="M71.3,47.4 L77.9,41.1" stroke="#666" stroke-width="0.7"/>
<rect x="85.8" y="39.9" width="6.6" height="4.4" fill="#dedede"/>
<path d="M85.6,40.1 H92.8 M85.6,46.3 H92.8" stroke="#9d9d9d" stroke-width="0.5"/>
<path d="M90.6,46.6 h1.6 l-0.8,1.8 Z" fill="#444"/>
<path d="M99.9,39.6 H108.4 M99.9,41.4 H108.4 M99.9,43.6 H108.4" stroke="#a5a5a5" stroke-width="0.5"/>
<path d="M100.2,48.2 L102.2,45.2 L104.0,45.0" stroke="#777" stroke-width="0.6" fill="none"/>
<path d="M106.0,46.4 h1.6 l-0.8,1.8 Z" fill="#444"/>
<path d="M116.4,46.6 L121.6,40.0 M117.4,47.8 L122.4,41.6 M115.6,44.6 L120.0,39.6 M116.0,42.6 L121.4,47.2 M118.0,41.0 L122.4,45.0" stroke="#8a8a8a" stroke-width="0.55" fill="none"/>
<text x="121.2" y="48.9" font-size="3" fill="#333" font-weight="bold">E</text>
<path d="M130.6,42.0 h2.6 l-1.3,-1.7 Z M135.0,45.6 h2.6 l-1.3,1.7 Z" fill="#555"/>
<path d="M131.8,43.0 L136.4,45.0 M132.6,44.4 h1.6" stroke="#777" stroke-width="0.5"/>
<path d="M141.00,42.65 h2.6 l-1.30,1.5 Z" fill="#111"/>
<rect x="146.1" y="37.2" width="0.6" height="12.4" fill="#d6d6d6"/>
<rect x="148.85" y="38.4" width="1.1" height="10.20" fill="#c4c4c4"/>
<rect x="212.3" y="37.4" width="13.0" height="11.6" fill="#f9f9f9" stroke="#dadada" stroke-width="0.5"/>
<rect x="286.1" y="37.0" width="0.6" height="12.6" fill="#d6d6d6"/>
<rect x="61.90" y="554.2" width="0.7" height="6.6" fill="#8a8a8a"/>
<rect x="117.75" y="554.2" width="0.7" height="6.6" fill="#8a8a8a"/>
<rect x="180.05" y="554.2" width="0.7" height="6.6" fill="#8a8a8a"/>
<rect x="265.05" y="554.2" width="0.7" height="6.6" fill="#8a8a8a"/>
<rect x="0" y="552" width="1.3" height="9.6" fill="#9a9a9a"/>
<path d="M346.6,551.2 V561.8 H401.6 V551.2" fill="#fff" stroke="#555" stroke-width="0.8"/>
<rect x="347" y="550.8" width="54.2" height="2.4" fill="#fff"/>
<path d="M1008.6,554.8 L1006.8,556.6 L1008.6,558.4 Z M1017.0,554.8 L1018.8,556.6 L1017.0,558.4 Z" fill="#9a9a9a"/>
<rect x="0" y="562.6" width="1024" height="0.6" fill="#e4e4e4"/>
<rect x="654.05" y="565" width="0.7" height="9" fill="#c2c2c2"/>
<rect x="716.15" y="565" width="0.7" height="9" fill="#c2c2c2"/>
<rect x="770.55" y="565" width="0.7" height="9" fill="#c2c2c2"/>
<rect x="808.90" y="565" width="0.7" height="9" fill="#c2c2c2"/>
<rect x="846.15" y="565" width="0.7" height="9" fill="#c2c2c2"/>
<rect x="883.05" y="565" width="0.7" height="9" fill="#c2c2c2"/>
<rect x="920.05" y="565" width="0.7" height="9" fill="#c2c2c2"/>
<rect x="954.90" y="565" width="0.7" height="9" fill="#c2c2c2"/>
<rect x="958.20" y="565.8" width="1.1" height="6.8" fill="#3d9a2e"/>
<rect x="958.20" y="571.40" width="1.1" height="1.20" fill="#2d5c8c"/>
<rect x="959.80" y="565.8" width="1.1" height="6.8" fill="#3d9a2e"/>
<rect x="959.80" y="570.85" width="1.1" height="1.75" fill="#2d5c8c"/>
<rect x="961.40" y="565.8" width="1.1" height="6.8" fill="#3d9a2e"/>
<rect x="961.40" y="570.30" width="1.1" height="2.30" fill="#2d5c8c"/>
<rect x="963.00" y="565.8" width="1.1" height="6.8" fill="#3d9a2e"/>
<rect x="963.00" y="569.75" width="1.1" height="2.85" fill="#2d5c8c"/>
<rect x="964.60" y="565.8" width="1.1" height="6.8" fill="#3d9a2e"/>
<rect x="964.60" y="569.20" width="1.1" height="3.40" fill="#2d5c8c"/>
<rect x="966.20" y="565.8" width="1.1" height="6.8" fill="#3d9a2e"/>
<rect x="966.20" y="568.65" width="1.1" height="3.95" fill="#2d5c8c"/>
<rect x="967.80" y="565.8" width="1.1" height="6.8" fill="#3d9a2e"/>
<rect x="967.80" y="568.10" width="1.1" height="4.50" fill="#2d5c8c"/>
<rect x="969.40" y="565.8" width="1.1" height="6.8" fill="#3d9a2e"/>
<rect x="969.40" y="567.55" width="1.1" height="5.05" fill="#2d5c8c"/></svg>
<div id="labels">
<span class="t" id="t0" style="left:11.60px;top:1.67px;font-size:6.4px;color:#161616;transform:scaleX(0.9402);-webkit-text-stroke:0.04px;">811644583: OANDA-Japan FX Live - [GBPJPY.oj5k,H1]</span>
<span class="t" id="t1" style="left:14.75px;top:13.12px;font-size:6.3px;color:#111;transform:scaleX(0.7575);font-weight:400;">ファイル (F)</span>
<span class="t" id="t2" style="left:51.50px;top:13.12px;font-size:6.3px;color:#111;transform:scaleX(0.9670);font-weight:400;">表示 (V)</span>
<span class="t" id="t3" style="left:83.50px;top:13.12px;font-size:6.3px;color:#111;transform:scaleX(0.9921);font-weight:400;">挿入(I)</span>
<span class="t" id="t4" style="left:111.90px;top:13.12px;font-size:6.3px;color:#111;transform:scaleX(0.7495);font-weight:400;">チャート (C)</span>
<span class="t" id="t5" style="left:148.60px;top:13.12px;font-size:6.3px;color:#111;transform:scaleX(0.8070);font-weight:400;">ツール (T)</span>
<span class="t" id="t6" style="left:181.50px;top:13.12px;font-size:6.3px;color:#111;transform:scaleX(0.7700);font-weight:400;">ウィンドウ (W)</span>
<span class="t" id="t7" style="left:225.50px;top:13.12px;font-size:6.3px;color:#111;transform:scaleX(0.8710);font-weight:400;">ヘルプ (H)</span>
<span class="t" id="t8" style="left:137.25px;top:25.97px;font-size:6.0px;color:#111;transform:scaleX(1.0556);-webkit-text-stroke:0.03px;font-weight:400;">新規注文</span>
<span class="t" id="t9" style="left:225.40px;top:25.97px;font-size:6.0px;color:#111;transform:scaleX(1.0243);-webkit-text-stroke:0.03px;font-weight:400;">自動売買</span>
<span class="t" id="t10" style="left:154.75px;top:41.76px;font-size:5.2px;color:#6e6e6e;transform:scaleX(1.0043);">M1</span>
<span class="t" id="t11" style="left:169.75px;top:41.76px;font-size:5.2px;color:#6e6e6e;transform:scaleX(1.0043);">M5</span>
<span class="t" id="t12" style="left:183.80px;top:41.76px;font-size:5.2px;color:#6e6e6e;transform:scaleX(0.9313);">M15</span>
<span class="t" id="t13" style="left:198.80px;top:41.76px;font-size:5.2px;color:#6e6e6e;transform:scaleX(0.9610);">M30</span>
<span class="t" id="t14" style="left:214.75px;top:41.76px;font-size:5.2px;color:#6e6e6e;transform:scaleX(1.0315);">H1</span>
<span class="t" id="t15" style="left:229.75px;top:41.76px;font-size:5.2px;color:#6e6e6e;transform:scaleX(0.9864);">H4</span>
<span class="t" id="t16" style="left:245.00px;top:41.76px;font-size:5.2px;color:#6e6e6e;transform:scaleX(0.9487);">D1</span>
<span class="t" id="t17" style="left:259.75px;top:41.76px;font-size:5.2px;color:#6e6e6e;transform:scaleX(0.9639);">W1</span>
<span class="t" id="t18" style="left:273.80px;top:41.76px;font-size:5.2px;color:#6e6e6e;transform:scaleX(1.0027);">MN</span>
<span class="t" id="t19" style="left:8.70px;top:554.82px;font-size:6.3px;color:#8c8c8c;transform:scaleX(0.9407);">GBPJPY.oj5k,M15</span>
<span class="t" id="t20" style="left:68.60px;top:554.82px;font-size:6.3px;color:#8c8c8c;transform:scaleX(0.9355);">GBPJPY.oj5k,H1</span>
<span class="t" id="t21" style="left:124.30px;top:554.82px;font-size:6.3px;color:#8c8c8c;transform:scaleX(0.9304);">GBPJPY.oj5k,Daily</span>
<span class="t" id="t22" style="left:186.60px;top:554.82px;font-size:6.3px;color:#8c8c8c;transform:scaleX(0.9639);">GBPJPY.oj5k,M15 (offline)</span>
<span class="t" id="t23" style="left:271.60px;top:554.82px;font-size:6.3px;color:#8c8c8c;transform:scaleX(0.9673);">GBPJPY.oj5k,H4 (offline)</span>
<span class="t" id="t24" style="left:352.40px;top:554.52px;font-size:6.3px;color:#1a1a1a;transform:scaleX(0.9164);">GBPJPY.oj5k,H1</span>
<span class="t" id="t25" style="left:1.00px;top:566.72px;font-size:6.3px;color:#111;transform:scaleX(0.8329);font-weight:400;">F1キーでヘルプが表示されます</span>
<span class="t" id="t26" style="left:658.10px;top:566.62px;font-size:6.3px;color:#222;transform:scaleX(1.0023);">Default</span>
<span class="t" id="t27" style="left:720.00px;top:566.62px;font-size:6.3px;color:#222;transform:scaleX(0.9266);">2012.03.05 11:00</span>
<span class="t" id="t28" style="left:774.60px;top:566.62px;font-size:6.3px;color:#222;transform:scaleX(0.9239);">O: 129.296</span>
<span class="t" id="t29" style="left:812.75px;top:566.62px;font-size:6.3px;color:#222;transform:scaleX(0.9136);">H: 129.328</span>
<span class="t" id="t30" style="left:850.25px;top:566.62px;font-size:6.3px;color:#222;transform:scaleX(0.9020);">L: 129.146</span>
<span class="t" id="t31" style="left:886.30px;top:566.62px;font-size:6.3px;color:#222;transform:scaleX(0.8909);">C: 129.181</span>
<span class="t" id="t32" style="left:923.60px;top:566.62px;font-size:6.3px;color:#222;transform:scaleX(0.9008);">V: 606</span>
<span class="t" id="t33" style="left:972.80px;top:566.62px;font-size:6.3px;color:#222;transform:scaleX(0.9688);">21729/7 kb</span>
</div>
</body></html>
